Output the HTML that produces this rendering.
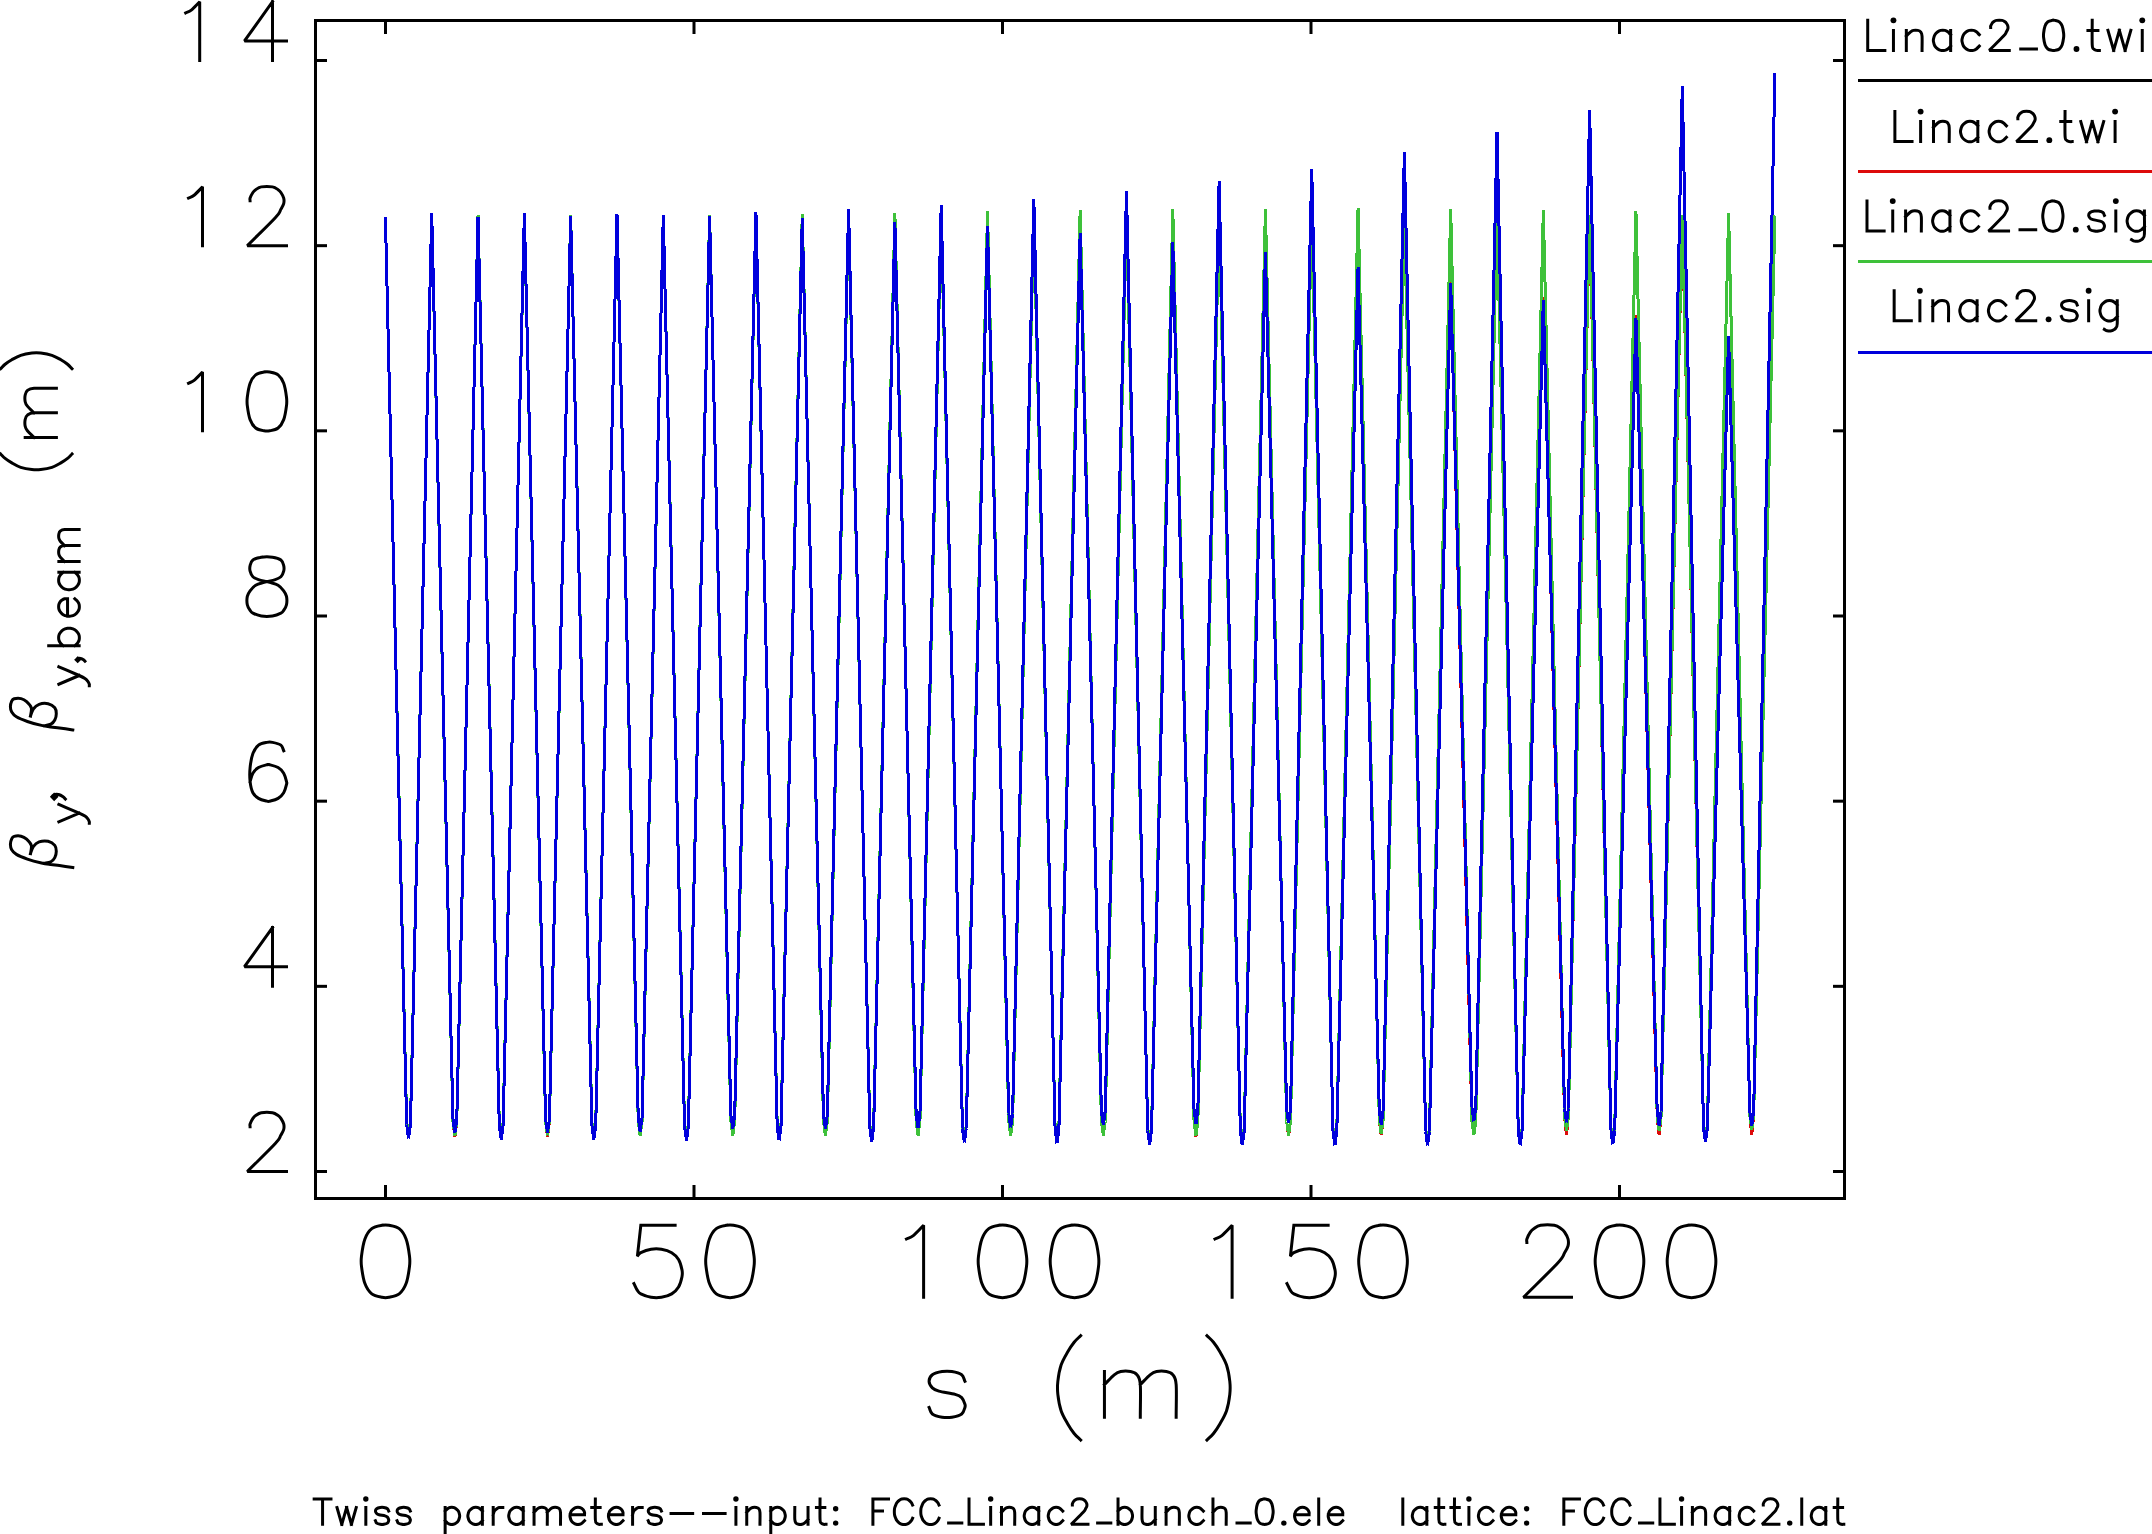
<!DOCTYPE html>
<html><head><meta charset="utf-8"><style>
html,body{margin:0;padding:0;background:#fff;overflow:hidden}
svg{display:block}
</style></head><body>
<svg width="2152" height="1534" viewBox="0 0 2152 1534">
<rect width="2152" height="1534" fill="#fff"/>
<rect x="315.5" y="20.5" width="1529.0" height="1178.0" fill="none" stroke="#000" stroke-width="3"/>
<g fill="#000"><rect x="384" y="22" width="3" height="12"/><rect x="384" y="1185" width="3" height="12"/><rect x="692.5" y="22" width="3" height="12"/><rect x="692.5" y="1185" width="3" height="12"/><rect x="1001" y="22" width="3" height="12"/><rect x="1001" y="1185" width="3" height="12"/><rect x="1309.5" y="22" width="3" height="12"/><rect x="1309.5" y="1185" width="3" height="12"/><rect x="1618" y="22" width="3" height="12"/><rect x="1618" y="1185" width="3" height="12"/><rect x="317" y="1170" width="10" height="3"/><rect x="1833" y="1170" width="10" height="3"/><rect x="317" y="984.83" width="10" height="3"/><rect x="1833" y="984.83" width="10" height="3"/><rect x="317" y="799.67" width="10" height="3"/><rect x="1833" y="799.67" width="10" height="3"/><rect x="317" y="614.5" width="10" height="3"/><rect x="1833" y="614.5" width="10" height="3"/><rect x="317" y="429.33" width="10" height="3"/><rect x="1833" y="429.33" width="10" height="3"/><rect x="317" y="244.17" width="10" height="3"/><rect x="1833" y="244.17" width="10" height="3"/><rect x="317" y="59" width="10" height="3"/><rect x="1833" y="59" width="10" height="3"/></g>
<path d="M385.4 217.4 406.66 1121.5 M406.66 1121.5 408.56 1135.5 M408.56 1135.5 410.46 1121.5 M410.46 1121.5 431.72 214.5 M431.72 214.5 452.98 1121.5 M452.98 1121.5 454.88 1135.5 M454.88 1135.5 456.78 1121.5 M456.78 1121.5 478.03 215.5 M478.03 215.5 499.29 1122.6 M499.29 1122.6 501.19 1136.6 M501.19 1136.6 503.09 1122.6 M503.09 1122.6 524.35 214.5 M524.35 214.5 545.61 1121.5 M545.61 1121.5 547.51 1135.5 M547.51 1135.5 549.41 1121.5 M549.41 1121.5 570.67 215.5 M570.67 215.5 591.93 1122.6 M591.93 1122.6 593.83 1136.6 M593.83 1136.6 595.73 1122.6 M595.73 1122.6 616.99 214.8 M616.99 214.8 638.24 1121.5 M638.24 1121.5 640.14 1135.5 M640.14 1135.5 642.04 1121.5 M642.04 1121.5 663.3 215 M663.3 215 684.56 1123.7 M684.56 1123.7 686.46 1137.7 M686.46 1137.7 688.36 1123.7 M688.36 1123.7 709.62 214.7 M709.62 214.7 730.88 1121.5 M730.88 1121.5 732.78 1135.5 M732.78 1135.5 734.68 1121.5 M734.68 1121.5 755.94 215 M755.94 215 777.19 1123.4 M777.19 1123.4 779.09 1137.4 M779.09 1137.4 780.99 1123.4 M780.99 1123.4 802.25 213.9 M802.25 213.9 823.51 1121.5 M823.51 1121.5 825.41 1135.5 M825.41 1135.5 827.31 1121.5 M827.31 1121.5 848.57 215 M848.57 215 869.83 1124.7 M869.83 1124.7 871.73 1138.7 M871.73 1138.7 873.63 1124.7 M873.63 1124.7 894.89 213.1 M894.89 213.1 916.15 1121.5 M916.15 1121.5 918.05 1135.5 M918.05 1135.5 919.95 1121.5 M919.95 1121.5 941.2 215 M941.2 215 962.46 1125.4 M962.46 1125.4 964.36 1139.4 M964.36 1139.4 966.26 1125.4 M966.26 1125.4 987.52 211 M987.52 211 1008.78 1121.5 M1008.78 1121.5 1010.68 1135.5 M1010.68 1135.5 1012.58 1121.5 M1012.58 1121.5 1033.84 215 M1033.84 215 1055.1 1126.3 M1055.1 1126.3 1057 1140.3 M1057 1140.3 1058.9 1126.3 M1058.9 1126.3 1080.15 210.2 M1080.15 210.2 1101.41 1121.5 M1101.41 1121.5 1103.31 1135.5 M1103.31 1135.5 1105.21 1121.5 M1105.21 1121.5 1126.47 215 M1126.47 215 1147.73 1127.5 M1147.73 1127.5 1149.63 1141.5 M1149.63 1141.5 1151.53 1127.5 M1151.53 1127.5 1172.79 209.4 M1172.79 209.4 1194.05 1121.5 M1194.05 1121.5 1195.95 1135.5 M1195.95 1135.5 1197.85 1121.5 M1197.85 1121.5 1219.11 215 M1219.11 215 1240.36 1128.3 M1240.36 1128.3 1242.26 1142.3 M1242.26 1142.3 1244.16 1128.3 M1244.16 1128.3 1265.42 209.4 M1265.42 209.4 1286.68 1121.5 M1286.68 1121.5 1288.58 1135.5 M1288.58 1135.5 1290.48 1121.5 M1290.48 1121.5 1311.74 215 M1311.74 215 1333 1128.4 M1333 1128.4 1334.9 1142.4 M1334.9 1142.4 1336.8 1128.4 M1336.8 1128.4 1358.06 208.4 M1358.06 208.4 1379.32 1119.9 M1379.32 1119.9 1381.22 1133.9 M1381.22 1133.9 1383.12 1119.9 M1383.12 1119.9 1404.37 215 M1404.37 215 1425.63 1128.4 M1425.63 1128.4 1427.53 1142.4 M1427.53 1142.4 1429.43 1128.4 M1429.43 1128.4 1450.69 209.2 M1450.69 209.2 1471.95 1121 M1471.95 1121 1473.85 1135 M1473.85 1135 1475.75 1121 M1475.75 1121 1497.01 215 M1497.01 215 1518.27 1128.4 M1518.27 1128.4 1520.17 1142.4 M1520.17 1142.4 1522.07 1128.4 M1522.07 1128.4 1543.32 210 M1543.32 210 1564.58 1116.8 M1564.58 1116.8 1566.48 1130.8 M1566.48 1130.8 1568.38 1116.8 M1568.38 1116.8 1589.64 215 M1589.64 215 1610.9 1127.4 M1610.9 1127.4 1612.8 1141.4 M1612.8 1141.4 1614.7 1127.4 M1614.7 1127.4 1635.96 211.3 M1635.96 211.3 1657.22 1117 M1657.22 1117 1659.12 1131 M1659.12 1131 1661.02 1117 M1661.02 1117 1682.28 215 M1682.28 215 1703.53 1125.3 M1703.53 1125.3 1705.43 1139.3 M1705.43 1139.3 1707.33 1125.3 M1707.33 1125.3 1728.59 213.4 M1728.59 213.4 1749.85 1115.7 M1749.85 1115.7 1751.75 1129.7 M1751.75 1129.7 1753.65 1115.7 M1753.65 1115.7 1774.91 215.5" fill="none" stroke="#000" stroke-width="3" stroke-linecap="butt" shape-rendering="crispEdges"/>
<path d="M385.4 217.4 406.66 1121.5 M406.66 1121.5 408.56 1135.5 M408.56 1135.5 410.46 1121.5 M410.46 1121.5 431.72 214.5 M431.72 214.5 452.98 1121.5 M452.98 1121.5 454.88 1136.7 M454.88 1136.7 456.78 1121.5 M456.78 1121.5 478.03 215.5 M478.03 215.5 499.29 1122.6 M499.29 1122.6 501.19 1136.6 M501.19 1136.6 503.09 1122.6 M503.09 1122.6 524.35 214.5 M524.35 214.5 545.61 1121.5 M545.61 1121.5 547.51 1136.7 M547.51 1136.7 549.41 1121.5 M549.41 1121.5 570.67 215.5 M570.67 215.5 591.93 1122.6 M591.93 1122.6 593.83 1136.6 M593.83 1136.6 595.73 1122.6 M595.73 1122.6 616.99 214.8 M616.99 214.8 638.24 1121.5 M638.24 1121.5 640.14 1135.5 M640.14 1135.5 642.04 1121.5 M642.04 1121.5 663.3 215 M663.3 215 684.56 1123.7 M684.56 1123.7 686.46 1137.7 M686.46 1137.7 688.36 1123.7 M688.36 1123.7 709.62 214.7 M709.62 214.7 730.88 1121.5 M730.88 1121.5 732.78 1135.5 M732.78 1135.5 734.68 1121.5 M734.68 1121.5 755.94 215 M755.94 215 777.19 1123.4 M777.19 1123.4 779.09 1137.4 M779.09 1137.4 780.99 1123.4 M780.99 1123.4 802.25 213.9 M802.25 213.9 823.51 1121.5 M823.51 1121.5 825.41 1135.5 M825.41 1135.5 827.31 1121.5 M827.31 1121.5 848.57 215 M848.57 215 869.83 1124.7 M869.83 1124.7 871.73 1138.7 M871.73 1138.7 873.63 1124.7 M873.63 1124.7 894.89 213.1 M894.89 213.1 916.15 1121.5 M916.15 1121.5 918.05 1135.5 M918.05 1135.5 919.95 1121.5 M919.95 1121.5 941.2 215 M941.2 215 962.46 1125.4 M962.46 1125.4 964.36 1139.4 M964.36 1139.4 966.26 1125.4 M966.26 1125.4 987.52 211 M987.52 211 1008.78 1121.5 M1008.78 1121.5 1010.68 1135.5 M1010.68 1135.5 1012.58 1121.5 M1012.58 1121.5 1033.84 215 M1033.84 215 1055.1 1126.3 M1055.1 1126.3 1057 1140.3 M1057 1140.3 1058.9 1126.3 M1058.9 1126.3 1080.15 210.2 M1080.15 210.2 1101.41 1121.5 M1101.41 1121.5 1103.31 1135.5 M1103.31 1135.5 1105.21 1121.5 M1105.21 1121.5 1126.47 215 M1126.47 215 1147.73 1127.5 M1147.73 1127.5 1149.63 1141.5 M1149.63 1141.5 1151.53 1127.5 M1151.53 1127.5 1172.79 209.4 M1172.79 209.4 1194.05 1121.5 M1194.05 1121.5 1195.95 1136.5 M1195.95 1136.5 1197.85 1121.5 M1197.85 1121.5 1219.11 215 M1219.11 215 1240.36 1128.3 M1240.36 1128.3 1242.26 1142.3 M1242.26 1142.3 1244.16 1128.3 M1244.16 1128.3 1265.42 209.4 M1265.42 209.4 1286.68 1121.5 M1286.68 1121.5 1288.58 1136.3 M1288.58 1136.3 1290.48 1121.5 M1290.48 1121.5 1311.74 215 M1311.74 215 1333 1128.4 M1333 1128.4 1334.9 1142.4 M1334.9 1142.4 1336.8 1128.4 M1336.8 1128.4 1358.06 208.4 M1358.06 208.4 1379.32 1119.9 M1379.32 1119.9 1381.22 1135.2 M1381.22 1135.2 1383.12 1119.9 M1383.12 1119.9 1404.37 215 M1404.37 215 1425.63 1128.4 M1425.63 1128.4 1427.53 1142.4 M1427.53 1142.4 1429.43 1128.4 M1429.43 1128.4 1450.69 280 M1450.69 280 1471.95 1121 M1471.95 1121 1473.85 1135.2 M1473.85 1135.2 1475.75 1121 M1475.75 1121 1497.01 215 M1497.01 215 1518.27 1128.4 M1518.27 1128.4 1520.17 1142.4 M1520.17 1142.4 1522.07 1128.4 M1522.07 1128.4 1543.32 297 M1543.32 297 1564.58 1116.8 M1564.58 1116.8 1566.48 1135.2 M1566.48 1135.2 1568.38 1116.8 M1568.38 1116.8 1589.64 216.5 M1589.64 216.5 1610.9 1127.4 M1610.9 1127.4 1612.8 1141.4 M1612.8 1141.4 1614.7 1127.4 M1614.7 1127.4 1635.96 315 M1635.96 315 1657.22 1117 M1657.22 1117 1659.12 1135.2 M1659.12 1135.2 1661.02 1117 M1661.02 1117 1682.28 216.5 M1682.28 216.5 1703.53 1125.3 M1703.53 1125.3 1705.43 1139.3 M1705.43 1139.3 1707.33 1125.3 M1707.33 1125.3 1728.59 213.4 M1728.59 213.4 1749.85 1115.7 M1749.85 1115.7 1751.75 1135.2 M1751.75 1135.2 1753.65 1115.7 M1753.65 1115.7 1774.91 215.5" fill="none" stroke="#dd0a0a" stroke-width="3" stroke-linecap="butt" shape-rendering="crispEdges"/>
<path d="M385.4 217.4 406.66 1121.5 M406.66 1121.5 408.56 1135.5 M408.56 1135.5 410.46 1121.5 M410.46 1121.5 431.72 214.5 M431.72 214.5 452.98 1121.5 M452.98 1121.5 454.88 1135.5 M454.88 1135.5 456.78 1121.5 M456.78 1121.5 478.03 215.5 M478.03 215.5 499.29 1122.6 M499.29 1122.6 501.19 1136.6 M501.19 1136.6 503.09 1122.6 M503.09 1122.6 524.35 214.5 M524.35 214.5 545.61 1121.5 M545.61 1121.5 547.51 1135.5 M547.51 1135.5 549.41 1121.5 M549.41 1121.5 570.67 215.5 M570.67 215.5 591.93 1122.6 M591.93 1122.6 593.83 1136.6 M593.83 1136.6 595.73 1122.6 M595.73 1122.6 616.99 214.8 M616.99 214.8 638.24 1121.5 M638.24 1121.5 640.14 1135.5 M640.14 1135.5 642.04 1121.5 M642.04 1121.5 663.3 215 M663.3 215 684.56 1123.7 M684.56 1123.7 686.46 1137.7 M686.46 1137.7 688.36 1123.7 M688.36 1123.7 709.62 214.7 M709.62 214.7 730.88 1121.5 M730.88 1121.5 732.78 1135.5 M732.78 1135.5 734.68 1121.5 M734.68 1121.5 755.94 215 M755.94 215 777.19 1123.4 M777.19 1123.4 779.09 1137.4 M779.09 1137.4 780.99 1123.4 M780.99 1123.4 802.25 213.9 M802.25 213.9 823.51 1121.5 M823.51 1121.5 825.41 1135.5 M825.41 1135.5 827.31 1121.5 M827.31 1121.5 848.57 215 M848.57 215 869.83 1124.7 M869.83 1124.7 871.73 1138.7 M871.73 1138.7 873.63 1124.7 M873.63 1124.7 894.89 213.1 M894.89 213.1 916.15 1121.5 M916.15 1121.5 918.05 1135.5 M918.05 1135.5 919.95 1121.5 M919.95 1121.5 941.2 215 M941.2 215 962.46 1125.4 M962.46 1125.4 964.36 1139.4 M964.36 1139.4 966.26 1125.4 M966.26 1125.4 987.52 211 M987.52 211 1008.78 1121.5 M1008.78 1121.5 1010.68 1135.5 M1010.68 1135.5 1012.58 1121.5 M1012.58 1121.5 1033.84 215 M1033.84 215 1055.1 1126.3 M1055.1 1126.3 1057 1140.3 M1057 1140.3 1058.9 1126.3 M1058.9 1126.3 1080.15 210.2 M1080.15 210.2 1101.41 1121.5 M1101.41 1121.5 1103.31 1135.5 M1103.31 1135.5 1105.21 1121.5 M1105.21 1121.5 1126.47 215 M1126.47 215 1147.73 1127.5 M1147.73 1127.5 1149.63 1141.5 M1149.63 1141.5 1151.53 1127.5 M1151.53 1127.5 1172.79 209.4 M1172.79 209.4 1194.05 1121.5 M1194.05 1121.5 1195.95 1135.5 M1195.95 1135.5 1197.85 1121.5 M1197.85 1121.5 1219.11 215 M1219.11 215 1240.36 1128.3 M1240.36 1128.3 1242.26 1142.3 M1242.26 1142.3 1244.16 1128.3 M1244.16 1128.3 1265.42 209.4 M1265.42 209.4 1286.68 1121.5 M1286.68 1121.5 1288.58 1135.5 M1288.58 1135.5 1290.48 1121.5 M1290.48 1121.5 1311.74 215 M1311.74 215 1333 1128.4 M1333 1128.4 1334.9 1142.4 M1334.9 1142.4 1336.8 1128.4 M1336.8 1128.4 1358.06 208.4 M1358.06 208.4 1379.32 1119.9 M1379.32 1119.9 1381.22 1133.9 M1381.22 1133.9 1383.12 1119.9 M1383.12 1119.9 1404.37 215 M1404.37 215 1425.63 1128.4 M1425.63 1128.4 1427.53 1142.4 M1427.53 1142.4 1429.43 1128.4 M1429.43 1128.4 1450.69 209.2 M1450.69 209.2 1471.95 1121 M1471.95 1121 1473.85 1135 M1473.85 1135 1475.75 1121 M1475.75 1121 1497.01 215 M1497.01 215 1518.27 1128.4 M1518.27 1128.4 1520.17 1142.4 M1520.17 1142.4 1522.07 1128.4 M1522.07 1128.4 1543.32 210 M1543.32 210 1564.58 1116.8 M1564.58 1116.8 1566.48 1130.8 M1566.48 1130.8 1568.38 1116.8 M1568.38 1116.8 1589.64 215 M1589.64 215 1610.9 1127.4 M1610.9 1127.4 1612.8 1141.4 M1612.8 1141.4 1614.7 1127.4 M1614.7 1127.4 1635.96 211.3 M1635.96 211.3 1657.22 1117 M1657.22 1117 1659.12 1131 M1659.12 1131 1661.02 1117 M1661.02 1117 1682.28 215 M1682.28 215 1703.53 1125.3 M1703.53 1125.3 1705.43 1139.3 M1705.43 1139.3 1707.33 1125.3 M1707.33 1125.3 1728.59 213.4 M1728.59 213.4 1749.85 1115.7 M1749.85 1115.7 1751.75 1129.7 M1751.75 1129.7 1753.65 1115.7 M1753.65 1115.7 1774.91 215.5" fill="none" stroke="#3ec13a" stroke-width="3" stroke-linecap="butt" shape-rendering="crispEdges"/>
<path d="M385.4 217.4 406.66 1124.5 M406.66 1124.5 408.56 1138.5 M408.56 1138.5 410.46 1124.5 M410.46 1124.5 431.72 213.3 M431.72 213.3 452.98 1119.1 M452.98 1119.1 454.88 1133.1 M454.88 1133.1 456.78 1119.1 M456.78 1119.1 478.03 216.6 M478.03 216.6 499.29 1125.6 M499.29 1125.6 501.19 1139.6 M501.19 1139.6 503.09 1125.6 M503.09 1125.6 524.35 213.3 M524.35 213.3 545.61 1119 M545.61 1119 547.51 1133 M547.51 1133 549.41 1119 M549.41 1119 570.67 216.1 M570.67 216.1 591.93 1125.6 M591.93 1125.6 593.83 1139.6 M593.83 1139.6 595.73 1125.6 M595.73 1125.6 616.99 214.2 M616.99 214.2 638.24 1117.5 M638.24 1117.5 640.14 1131.5 M640.14 1131.5 642.04 1117.5 M642.04 1117.5 663.3 215.5 M663.3 215.5 684.56 1126.7 M684.56 1126.7 686.46 1140.7 M686.46 1140.7 688.36 1126.7 M688.36 1126.7 709.62 216 M709.62 216 730.88 1115 M730.88 1115 732.78 1129 M732.78 1129 734.68 1115 M734.68 1115 755.94 212 M755.94 212 777.19 1126.4 M777.19 1126.4 779.09 1140.4 M779.09 1140.4 780.99 1126.4 M780.99 1126.4 802.25 218 M802.25 218 823.51 1115 M823.51 1115 825.41 1129 M825.41 1129 827.31 1115 M827.31 1115 848.57 209 M848.57 209 869.83 1127.7 M869.83 1127.7 871.73 1141.7 M871.73 1141.7 873.63 1127.7 M873.63 1127.7 894.89 222 M894.89 222 916.15 1114.2 M916.15 1114.2 918.05 1128.2 M918.05 1128.2 919.95 1114.2 M919.95 1114.2 941.2 205 M941.2 205 962.46 1128.4 M962.46 1128.4 964.36 1142.4 M964.36 1142.4 966.26 1128.4 M966.26 1128.4 987.52 226.1 M987.52 226.1 1008.78 1113.4 M1008.78 1113.4 1010.68 1127.4 M1010.68 1127.4 1012.58 1113.4 M1012.58 1113.4 1033.84 199 M1033.84 199 1055.1 1129.3 M1055.1 1129.3 1057 1143.3 M1057 1143.3 1058.9 1129.3 M1058.9 1129.3 1080.15 232.9 M1080.15 232.9 1101.41 1111 M1101.41 1111 1103.31 1125 M1103.31 1125 1105.21 1111 M1105.21 1111 1126.47 191 M1126.47 191 1147.73 1130.5 M1147.73 1130.5 1149.63 1144.5 M1149.63 1144.5 1151.53 1130.5 M1151.53 1130.5 1172.79 241.9 M1172.79 241.9 1194.05 1110.2 M1194.05 1110.2 1195.95 1124.2 M1195.95 1124.2 1197.85 1110.2 M1197.85 1110.2 1219.11 180.9 M1219.11 180.9 1240.36 1131.3 M1240.36 1131.3 1242.26 1145.3 M1242.26 1145.3 1244.16 1131.3 M1244.16 1131.3 1265.42 252.5 M1265.42 252.5 1286.68 1109.3 M1286.68 1109.3 1288.58 1123.3 M1288.58 1123.3 1290.48 1109.3 M1290.48 1109.3 1311.74 169.2 M1311.74 169.2 1333 1131.4 M1333 1131.4 1334.9 1145.4 M1334.9 1145.4 1336.8 1131.4 M1336.8 1131.4 1358.06 267 M1358.06 267 1379.32 1110.5 M1379.32 1110.5 1381.22 1124.5 M1381.22 1124.5 1383.12 1110.5 M1383.12 1110.5 1404.37 152.1 M1404.37 152.1 1425.63 1131.4 M1425.63 1131.4 1427.53 1145.4 M1427.53 1145.4 1429.43 1131.4 M1429.43 1131.4 1450.69 282.7 M1450.69 282.7 1471.95 1107.4 M1471.95 1107.4 1473.85 1121.4 M1473.85 1121.4 1475.75 1107.4 M1475.75 1107.4 1497.01 132.2 M1497.01 132.2 1518.27 1131.4 M1518.27 1131.4 1520.17 1145.4 M1520.17 1145.4 1522.07 1131.4 M1522.07 1131.4 1543.32 299.9 M1543.32 299.9 1564.58 1108.4 M1564.58 1108.4 1566.48 1122.4 M1566.48 1122.4 1568.38 1108.4 M1568.38 1108.4 1589.64 110.1 M1589.64 110.1 1610.9 1130.4 M1610.9 1130.4 1612.8 1144.4 M1612.8 1144.4 1614.7 1130.4 M1614.7 1130.4 1635.96 317.7 M1635.96 317.7 1657.22 1111.5 M1657.22 1111.5 1659.12 1125.5 M1659.12 1125.5 1661.02 1111.5 M1661.02 1111.5 1682.28 86.1 M1682.28 86.1 1703.53 1128.3 M1703.53 1128.3 1705.43 1142.3 M1705.43 1142.3 1707.33 1128.3 M1707.33 1128.3 1728.59 336.5 M1728.59 336.5 1749.85 1111.5 M1749.85 1111.5 1751.75 1125.5 M1751.75 1125.5 1753.65 1111.5 M1753.65 1111.5 1774.91 72.9" fill="none" stroke="#0000dc" stroke-width="3" stroke-linecap="butt" shape-rendering="crispEdges"/>
<path d="M250.1 1126.7 C250.1 1125.77 249.63 1125.3 250.1 1123.9 C250.57 1122.5 251.97 1119.7 252.9 1118.3 C253.83 1116.9 254.3 1116.43 255.7 1115.5 C257.1 1114.57 258.5 1113.17 261.3 1112.7 C264.1 1112.23 269.7 1112.23 272.5 1112.7 C275.3 1113.17 276.7 1114.57 278.1 1115.5 C279.5 1116.43 279.97 1116.9 280.9 1118.3 C281.83 1119.7 283.23 1122.03 283.7 1123.9 C284.17 1125.77 284.17 1127.63 283.7 1129.5 C283.23 1131.37 282.3 1132.77 280.9 1135.1 C279.5 1137.43 280.9 1137.43 275.3 1143.5 C269.7 1149.57 256.63 1162.17 247.3 1171.5 C260.37 1171.5 273.43 1171.5 286.5 1171.5 M272.5 927.53 C263.17 940.6 253.83 953.67 244.5 966.73 C258.5 966.73 272.5 966.73 286.5 966.73 M272.5 927.53 272.5 986.33 M283.7 750.77 C282.77 748.9 282.77 746.57 280.9 745.17 C279.03 743.77 274.83 742.83 272.5 742.37 C270.17 741.9 269.23 741.9 266.9 742.37 C264.57 742.83 260.83 743.3 258.5 745.17 C256.17 747.03 254.3 749.83 252.9 753.57 C251.5 757.3 250.57 762.9 250.1 767.57 C249.63 772.23 249.63 777.37 250.1 781.57 C250.57 785.77 251.5 789.97 252.9 792.77 C254.3 795.57 256.17 796.97 258.5 798.37 C260.83 799.77 265.03 800.7 266.9 801.17 C268.77 801.63 267.83 801.63 269.7 801.17 C271.57 800.7 275.77 799.77 278.1 798.37 C280.43 796.97 282.3 795.1 283.7 792.77 C285.1 790.43 286.03 786.23 286.5 784.37 C286.97 782.5 286.97 783.43 286.5 781.57 C286.03 779.7 285.1 775.5 283.7 773.17 C282.3 770.83 280.43 768.97 278.1 767.57 C275.77 766.17 271.57 765.23 269.7 764.77 C267.83 764.3 268.77 764.3 266.9 764.77 C265.03 765.23 260.83 766.17 258.5 767.57 C256.17 768.97 254.3 770.83 252.9 773.17 C251.5 775.5 251.03 778.77 250.1 781.57 M261.3 557.2 C258.03 557.67 254.77 558.6 252.9 560 C251.03 561.4 250.57 563.73 250.1 565.6 C249.63 567.47 249.63 569.33 250.1 571.2 C250.57 573.07 251.5 575.4 252.9 576.8 C254.3 578.2 255.7 578.67 258.5 579.6 C261.3 580.53 266.43 581.47 269.7 582.4 C272.97 583.33 275.77 583.8 278.1 585.2 C280.43 586.6 282.3 588.93 283.7 590.8 C285.1 592.67 286.03 594.07 286.5 596.4 C286.97 598.73 286.97 602.47 286.5 604.8 C286.03 607.13 284.63 609 283.7 610.4 C282.77 611.8 282.77 612.27 280.9 613.2 C279.03 614.13 275.77 615.53 272.5 616 C269.23 616.47 264.57 616.47 261.3 616 C258.03 615.53 254.77 614.13 252.9 613.2 C251.03 612.27 251.03 611.8 250.1 610.4 C249.17 609 247.77 607.13 247.3 604.8 C246.83 602.47 246.83 598.73 247.3 596.4 C247.77 594.07 248.7 592.67 250.1 590.8 C251.5 588.93 253.37 586.6 255.7 585.2 C258.03 583.8 260.83 583.33 264.1 582.4 C267.37 581.47 272.5 580.53 275.3 579.6 C278.1 578.67 279.5 578.2 280.9 576.8 C282.3 575.4 283.23 573.07 283.7 571.2 C284.17 569.33 284.17 567.47 283.7 565.6 C283.23 563.73 282.77 561.4 280.9 560 C279.03 558.6 275.77 557.67 272.5 557.2 C269.23 556.73 264.57 556.73 261.3 557.2 M188.5 383.23 C190.37 382.3 191.77 382.3 194.1 380.43 C196.43 378.57 199.7 374.83 202.5 372.03 C202.5 391.63 202.5 411.23 202.5 430.83 M264.1 372.03 C261.77 372.5 258.03 372.97 255.7 374.83 C253.37 376.7 251.5 379.5 250.1 383.23 C248.7 386.97 247.77 393.5 247.3 397.23 C246.83 400.97 246.83 401.9 247.3 405.63 C247.77 409.37 248.7 415.9 250.1 419.63 C251.5 423.37 253.37 426.17 255.7 428.03 C258.03 429.9 261.77 430.37 264.1 430.83 C266.43 431.3 267.37 431.3 269.7 430.83 C272.03 430.37 275.77 429.9 278.1 428.03 C280.43 426.17 282.3 423.37 283.7 419.63 C285.1 415.9 286.03 409.37 286.5 405.63 C286.97 401.9 286.97 400.97 286.5 397.23 C286.03 393.5 285.1 386.97 283.7 383.23 C282.3 379.5 280.43 376.7 278.1 374.83 C275.77 372.97 272.03 372.5 269.7 372.03 C267.37 371.57 266.43 371.57 264.1 372.03 M188.5 198.07 C190.37 197.13 191.77 197.13 194.1 195.27 C196.43 193.4 199.7 189.67 202.5 186.87 C202.5 206.47 202.5 226.07 202.5 245.67 M250.1 200.87 C250.1 199.93 249.63 199.47 250.1 198.07 C250.57 196.67 251.97 193.87 252.9 192.47 C253.83 191.07 254.3 190.6 255.7 189.67 C257.1 188.73 258.5 187.33 261.3 186.87 C264.1 186.4 269.7 186.4 272.5 186.87 C275.3 187.33 276.7 188.73 278.1 189.67 C279.5 190.6 279.97 191.07 280.9 192.47 C281.83 193.87 283.23 196.2 283.7 198.07 C284.17 199.93 284.17 201.8 283.7 203.67 C283.23 205.53 282.3 206.93 280.9 209.27 C279.5 211.6 280.9 211.6 275.3 217.67 C269.7 223.73 256.63 236.33 247.3 245.67 C260.37 245.67 273.43 245.67 286.5 245.67 M185.7 12.9 C187.57 11.97 188.97 11.97 191.3 10.1 C193.63 8.23 196.9 4.5 199.7 1.7 C199.7 21.3 199.7 40.9 199.7 60.5 M272.5 1.7 C263.17 14.77 253.83 27.83 244.5 40.9 C258.5 40.9 272.5 40.9 286.5 40.9 M272.5 1.7 272.5 60.5 M382.07 1225.27 C379.21 1225.84 374.64 1226.41 371.78 1228.7 C368.92 1230.99 366.63 1234.42 364.92 1238.99 C363.21 1243.56 362.06 1251.57 361.49 1256.14 C360.92 1260.71 360.92 1261.86 361.49 1266.43 C362.06 1271 363.21 1279.01 364.92 1283.58 C366.63 1288.15 368.92 1291.58 371.78 1293.87 C374.64 1296.16 379.21 1296.73 382.07 1297.3 C384.93 1297.87 386.07 1297.87 388.93 1297.3 C391.79 1296.73 396.36 1296.16 399.22 1293.87 C402.08 1291.58 404.37 1288.15 406.08 1283.58 C407.79 1279.01 408.94 1271 409.51 1266.43 C410.08 1261.86 410.08 1260.71 409.51 1256.14 C408.94 1251.57 407.79 1243.56 406.08 1238.99 C404.37 1234.42 402.08 1230.99 399.22 1228.7 C396.36 1226.41 391.79 1225.84 388.93 1225.27 C386.07 1224.7 384.93 1224.7 382.07 1225.27 M675.13 1225.27 C663.7 1225.27 652.27 1225.27 640.83 1225.27 C639.69 1235.56 638.55 1245.85 637.4 1256.14 C638.55 1255 638.55 1253.85 640.83 1252.71 C643.12 1251.57 647.69 1249.85 651.12 1249.28 C654.56 1248.71 657.99 1248.71 661.41 1249.28 C664.84 1249.85 668.85 1251 671.7 1252.71 C674.56 1254.42 676.85 1256.71 678.56 1259.57 C680.28 1262.43 681.42 1267 681.99 1269.86 C682.57 1272.72 682.57 1273.86 681.99 1276.72 C681.42 1279.58 680.28 1284.15 678.56 1287.01 C676.85 1289.87 674.56 1292.15 671.7 1293.87 C668.85 1295.58 664.84 1296.73 661.41 1297.3 C657.99 1297.87 654.56 1297.87 651.12 1297.3 C647.69 1296.73 643.12 1295.01 640.83 1293.87 C638.55 1292.73 638.55 1292.15 637.4 1290.44 C636.26 1288.73 635.12 1285.87 633.97 1283.58 M726.58 1225.27 C723.73 1225.84 719.15 1226.41 716.29 1228.7 C713.44 1230.99 711.15 1234.42 709.43 1238.99 C707.72 1243.56 706.58 1251.57 706 1256.14 C705.43 1260.71 705.43 1261.86 706 1266.43 C706.58 1271 707.72 1279.01 709.43 1283.58 C711.15 1288.15 713.44 1291.58 716.29 1293.87 C719.15 1296.16 723.73 1296.73 726.58 1297.3 C729.44 1297.87 730.59 1297.87 733.44 1297.3 C736.3 1296.73 740.88 1296.16 743.73 1293.87 C746.59 1291.58 748.88 1288.15 750.59 1283.58 C752.31 1279.01 753.45 1271 754.02 1266.43 C754.6 1261.86 754.6 1260.71 754.02 1256.14 C753.45 1251.57 752.31 1243.56 750.59 1238.99 C748.88 1234.42 746.59 1230.99 743.73 1228.7 C740.88 1226.41 736.3 1225.84 733.44 1225.27 C730.59 1224.7 729.44 1224.7 726.58 1225.27 M906.46 1238.99 C908.75 1237.85 910.46 1237.85 913.32 1235.56 C916.18 1233.27 920.18 1228.7 923.61 1225.27 C923.61 1249.28 923.61 1273.29 923.61 1297.3 M999.07 1225.27 C996.21 1225.84 991.64 1226.41 988.78 1228.7 C985.92 1230.99 983.64 1234.42 981.92 1238.99 C980.21 1243.56 979.06 1251.57 978.49 1256.14 C977.92 1260.71 977.92 1261.86 978.49 1266.43 C979.06 1271 980.21 1279.01 981.92 1283.58 C983.64 1288.15 985.92 1291.58 988.78 1293.87 C991.64 1296.16 996.21 1296.73 999.07 1297.3 C1001.93 1297.87 1003.07 1297.87 1005.93 1297.3 C1008.79 1296.73 1013.36 1296.16 1016.22 1293.87 C1019.08 1291.58 1021.37 1288.15 1023.08 1283.58 C1024.8 1279.01 1025.94 1271 1026.51 1266.43 C1027.08 1261.86 1027.08 1260.71 1026.51 1256.14 C1025.94 1251.57 1024.8 1243.56 1023.08 1238.99 C1021.37 1234.42 1019.08 1230.99 1016.22 1228.7 C1013.36 1226.41 1008.79 1225.84 1005.93 1225.27 C1003.07 1224.7 1001.93 1224.7 999.07 1225.27 M1071.1 1225.27 C1068.24 1225.84 1063.67 1226.41 1060.81 1228.7 C1057.95 1230.99 1055.66 1234.42 1053.95 1238.99 C1052.24 1243.56 1051.09 1251.57 1050.52 1256.14 C1049.95 1260.71 1049.95 1261.86 1050.52 1266.43 C1051.09 1271 1052.24 1279.01 1053.95 1283.58 C1055.66 1288.15 1057.95 1291.58 1060.81 1293.87 C1063.67 1296.16 1068.24 1296.73 1071.1 1297.3 C1073.96 1297.87 1075.1 1297.87 1077.96 1297.3 C1080.82 1296.73 1085.39 1296.16 1088.25 1293.87 C1091.11 1291.58 1093.4 1288.15 1095.11 1283.58 C1096.83 1279.01 1097.97 1271 1098.54 1266.43 C1099.11 1261.86 1099.11 1260.71 1098.54 1256.14 C1097.97 1251.57 1096.83 1243.56 1095.11 1238.99 C1093.4 1234.42 1091.11 1230.99 1088.25 1228.7 C1085.39 1226.41 1080.82 1225.84 1077.96 1225.27 C1075.1 1224.7 1073.96 1224.7 1071.1 1225.27 M1214.96 1238.99 C1217.25 1237.85 1218.96 1237.85 1221.82 1235.56 C1224.68 1233.27 1228.68 1228.7 1232.11 1225.27 C1232.11 1249.28 1232.11 1273.29 1232.11 1297.3 M1328.15 1225.27 C1316.72 1225.27 1305.28 1225.27 1293.85 1225.27 C1292.71 1235.56 1291.56 1245.85 1290.42 1256.14 C1291.56 1255 1291.56 1253.85 1293.85 1252.71 C1296.14 1251.57 1300.71 1249.85 1304.14 1249.28 C1307.57 1248.71 1311 1248.71 1314.43 1249.28 C1317.86 1249.85 1321.86 1251 1324.72 1252.71 C1327.58 1254.42 1329.87 1256.71 1331.58 1259.57 C1333.3 1262.43 1334.44 1267 1335.01 1269.86 C1335.58 1272.72 1335.58 1273.86 1335.01 1276.72 C1334.44 1279.58 1333.3 1284.15 1331.58 1287.01 C1329.87 1289.87 1327.58 1292.15 1324.72 1293.87 C1321.86 1295.58 1317.86 1296.73 1314.43 1297.3 C1311 1297.87 1307.57 1297.87 1304.14 1297.3 C1300.71 1296.73 1296.14 1295.01 1293.85 1293.87 C1291.56 1292.73 1291.56 1292.15 1290.42 1290.44 C1289.28 1288.73 1288.13 1285.87 1286.99 1283.58 M1379.6 1225.27 C1376.74 1225.84 1372.17 1226.41 1369.31 1228.7 C1366.45 1230.99 1364.16 1234.42 1362.45 1238.99 C1360.74 1243.56 1359.59 1251.57 1359.02 1256.14 C1358.45 1260.71 1358.45 1261.86 1359.02 1266.43 C1359.59 1271 1360.74 1279.01 1362.45 1283.58 C1364.16 1288.15 1366.45 1291.58 1369.31 1293.87 C1372.17 1296.16 1376.74 1296.73 1379.6 1297.3 C1382.46 1297.87 1383.6 1297.87 1386.46 1297.3 C1389.32 1296.73 1393.89 1296.16 1396.75 1293.87 C1399.61 1291.58 1401.9 1288.15 1403.61 1283.58 C1405.33 1279.01 1406.47 1271 1407.04 1266.43 C1407.61 1261.86 1407.61 1260.71 1407.04 1256.14 C1406.47 1251.57 1405.33 1243.56 1403.61 1238.99 C1401.9 1234.42 1399.61 1230.99 1396.75 1228.7 C1393.89 1226.41 1389.32 1225.84 1386.46 1225.27 C1383.6 1224.7 1382.46 1224.7 1379.6 1225.27 M1526.89 1242.42 C1526.89 1241.28 1526.32 1240.7 1526.89 1238.99 C1527.46 1237.28 1529.18 1233.84 1530.32 1232.13 C1531.46 1230.41 1532.04 1229.84 1533.75 1228.7 C1535.46 1227.56 1537.18 1225.84 1540.61 1225.27 C1544.04 1224.7 1550.9 1224.7 1554.33 1225.27 C1557.76 1225.84 1559.48 1227.56 1561.19 1228.7 C1562.9 1229.84 1563.48 1230.41 1564.62 1232.13 C1565.76 1233.84 1567.48 1236.7 1568.05 1238.99 C1568.62 1241.28 1568.62 1243.56 1568.05 1245.85 C1567.48 1248.14 1566.34 1249.85 1564.62 1252.71 C1562.91 1255.57 1564.62 1255.57 1557.76 1263 C1550.9 1270.43 1534.89 1285.87 1523.46 1297.3 C1539.47 1297.3 1555.47 1297.3 1571.48 1297.3 M1616.07 1225.27 C1613.21 1225.84 1608.64 1226.41 1605.78 1228.7 C1602.92 1230.99 1600.63 1234.42 1598.92 1238.99 C1597.21 1243.56 1596.06 1251.57 1595.49 1256.14 C1594.92 1260.71 1594.92 1261.86 1595.49 1266.43 C1596.06 1271 1597.21 1279.01 1598.92 1283.58 C1600.63 1288.15 1602.92 1291.58 1605.78 1293.87 C1608.64 1296.16 1613.21 1296.73 1616.07 1297.3 C1618.93 1297.87 1620.07 1297.87 1622.93 1297.3 C1625.79 1296.73 1630.36 1296.16 1633.22 1293.87 C1636.08 1291.58 1638.37 1288.15 1640.08 1283.58 C1641.8 1279.01 1642.94 1271 1643.51 1266.43 C1644.08 1261.86 1644.08 1260.71 1643.51 1256.14 C1642.94 1251.57 1641.8 1243.56 1640.08 1238.99 C1638.37 1234.42 1636.08 1230.99 1633.22 1228.7 C1630.36 1226.41 1625.79 1225.84 1622.93 1225.27 C1620.07 1224.7 1618.93 1224.7 1616.07 1225.27 M1688.1 1225.27 C1685.24 1225.84 1680.67 1226.41 1677.81 1228.7 C1674.95 1230.99 1672.66 1234.42 1670.95 1238.99 C1669.24 1243.56 1668.09 1251.57 1667.52 1256.14 C1666.95 1260.71 1666.95 1261.86 1667.52 1266.43 C1668.09 1271 1669.24 1279.01 1670.95 1283.58 C1672.66 1288.15 1674.95 1291.58 1677.81 1293.87 C1680.67 1296.16 1685.24 1296.73 1688.1 1297.3 C1690.96 1297.87 1692.1 1297.87 1694.96 1297.3 C1697.82 1296.73 1702.39 1296.16 1705.25 1293.87 C1708.11 1291.58 1710.4 1288.15 1712.11 1283.58 C1713.83 1279.01 1714.97 1271 1715.54 1266.43 C1716.11 1261.86 1716.11 1260.71 1715.54 1256.14 C1714.97 1251.57 1713.83 1243.56 1712.11 1238.99 C1710.4 1234.42 1708.11 1230.99 1705.25 1228.7 C1702.39 1226.41 1697.82 1225.84 1694.96 1225.27 C1692.1 1224.7 1690.96 1224.7 1688.1 1225.27" fill="none" stroke="#000" stroke-width="3" stroke-linecap="square" stroke-linejoin="miter" stroke-miterlimit="2"/>
<path d="M964.94 1381.34 C963.85 1379.17 963.85 1376.45 961.68 1374.82 C959.51 1373.19 955.16 1372.1 951.9 1371.56 C948.64 1371.02 945.38 1371.02 942.12 1371.56 C938.86 1372.1 934.51 1373.19 932.34 1374.82 C930.17 1376.45 929.08 1379.17 929.08 1381.34 C929.08 1383.51 930.71 1386.23 932.34 1387.86 C933.97 1389.49 935.06 1390.03 938.86 1391.12 C942.66 1392.21 951.36 1393.29 955.16 1394.38 C958.96 1395.47 960.05 1396.01 961.68 1397.64 C963.31 1399.27 964.4 1402.53 964.94 1404.16 C965.48 1405.79 965.48 1405.79 964.94 1407.42 C964.4 1409.05 963.85 1412.31 961.68 1413.94 C959.51 1415.57 955.16 1416.66 951.9 1417.2 C948.64 1417.74 945.38 1417.74 942.12 1417.2 C938.86 1416.66 934.51 1415.57 932.34 1413.94 C930.17 1412.31 930.17 1409.59 929.08 1407.42 M1080.66 1335.7 C1078.49 1337.87 1076.31 1339.5 1074.14 1342.22 C1071.97 1344.94 1069.79 1348.2 1067.62 1352 C1065.45 1355.8 1062.73 1360.15 1061.1 1365.04 C1059.47 1369.93 1058.38 1376.45 1057.84 1381.34 C1057.3 1386.23 1057.3 1389.49 1057.84 1394.38 C1058.38 1399.27 1059.47 1405.79 1061.1 1410.68 C1062.73 1415.57 1065.45 1419.92 1067.62 1423.72 C1069.79 1427.52 1071.97 1430.78 1074.14 1433.5 C1076.31 1436.22 1078.49 1437.85 1080.66 1440.02 M1104.44 1371.56 1104.44 1417.2 M1104.44 1384.6 C1107.7 1381.34 1111.5 1376.99 1114.22 1374.82 C1116.94 1372.65 1118.02 1372.1 1120.74 1371.56 C1123.46 1371.02 1127.8 1371.02 1130.52 1371.56 C1133.24 1372.1 1135.41 1372.65 1137.04 1374.82 C1138.67 1376.99 1139.76 1377.54 1140.3 1384.6 C1140.84 1391.66 1140.3 1406.33 1140.3 1417.2 M1140.3 1384.6 C1143.56 1381.34 1147.36 1376.99 1150.08 1374.82 C1152.8 1372.65 1153.88 1372.1 1156.6 1371.56 C1159.32 1371.02 1163.66 1371.02 1166.38 1371.56 C1169.1 1372.1 1171.27 1372.65 1172.9 1374.82 C1174.53 1376.99 1175.62 1377.54 1176.16 1384.6 C1176.7 1391.66 1176.16 1406.33 1176.16 1417.2 M1206.98 1335.7 C1209.15 1337.87 1211.33 1339.5 1213.5 1342.22 C1215.67 1344.94 1217.85 1348.2 1220.02 1352 C1222.19 1355.8 1224.91 1360.15 1226.54 1365.04 C1228.17 1369.93 1229.26 1376.45 1229.8 1381.34 C1230.34 1386.23 1230.34 1389.49 1229.8 1394.38 C1229.26 1399.27 1228.17 1405.79 1226.54 1410.68 C1224.91 1415.57 1222.19 1419.92 1220.02 1423.72 C1217.85 1427.52 1215.67 1430.78 1213.5 1433.5 C1211.33 1436.22 1209.15 1437.85 1206.98 1440.02" fill="none" stroke="#000" stroke-width="3" stroke-linecap="square" stroke-linejoin="miter" stroke-miterlimit="2"/>
<path d="M1867.71 20.37 1867.71 50.4 M1867.71 50.4 1884.87 50.4 M1893.45 30.38 1893.45 50.4 M1906.32 30.38 1906.32 50.4 M1906.32 36.1 C1907.75 34.67 1909.41 32.76 1910.61 31.81 C1911.8 30.86 1912.27 30.62 1913.46 30.38 C1914.66 30.14 1916.56 30.14 1917.76 30.38 C1918.95 30.62 1919.9 30.86 1920.62 31.81 C1921.33 32.76 1921.81 33 1922.05 36.1 C1922.28 39.2 1922.05 45.63 1922.05 50.4 M1950.65 30.38 1950.65 50.4 M1950.65 34.67 C1949.69 33.72 1948.74 32.52 1947.79 31.81 C1946.83 31.09 1946.12 30.62 1944.93 30.38 C1943.73 30.14 1941.83 30.14 1940.64 30.38 C1939.44 30.62 1938.73 31.09 1937.78 31.81 C1936.82 32.52 1935.63 33.48 1934.92 34.67 C1934.2 35.86 1933.72 37.77 1933.49 38.96 C1933.25 40.15 1933.25 40.63 1933.49 41.82 C1933.72 43.01 1934.2 44.92 1934.92 46.11 C1935.63 47.3 1936.82 48.25 1937.78 48.97 C1938.73 49.69 1939.44 50.16 1940.64 50.4 C1941.83 50.64 1943.73 50.64 1944.93 50.4 C1946.12 50.16 1946.83 49.69 1947.79 48.97 C1948.74 48.25 1949.69 47.06 1950.65 46.11 M1979.25 34.67 C1978.29 33.72 1977.34 32.52 1976.38 31.81 C1975.43 31.09 1974.72 30.62 1973.53 30.38 C1972.33 30.14 1970.43 30.14 1969.24 30.38 C1968.04 30.62 1967.33 31.09 1966.38 31.81 C1965.42 32.52 1964.23 33.48 1963.52 34.67 C1962.8 35.86 1962.32 37.77 1962.09 38.96 C1961.85 40.15 1961.85 40.63 1962.09 41.82 C1962.32 43.01 1962.8 44.92 1963.52 46.11 C1964.23 47.3 1965.42 48.25 1966.38 48.97 C1967.33 49.69 1968.04 50.16 1969.24 50.4 C1970.43 50.64 1972.33 50.64 1973.53 50.4 C1974.72 50.16 1975.43 49.69 1976.38 48.97 C1977.34 48.25 1978.29 47.06 1979.25 46.11 M1990.69 27.52 C1990.69 27.04 1990.45 26.8 1990.69 26.09 C1990.92 25.38 1991.64 23.95 1992.12 23.23 C1992.59 22.52 1992.83 22.28 1993.55 21.8 C1994.26 21.32 1994.98 20.61 1996.41 20.37 C1997.84 20.13 2000.7 20.13 2002.13 20.37 C2003.56 20.61 2004.27 21.32 2004.99 21.8 C2005.7 22.28 2005.94 22.52 2006.42 23.23 C2006.89 23.95 2007.61 25.14 2007.85 26.09 C2008.08 27.04 2008.08 28 2007.85 28.95 C2007.61 29.9 2007.13 30.62 2006.42 31.81 C2005.7 33 2006.41 33 2003.56 36.1 C2000.7 39.2 1994.02 45.63 1989.26 50.4 C1995.93 50.4 2002.6 50.4 2009.28 50.4 M2020.72 48.97 2036.45 48.97 M2052.18 20.37 C2050.98 20.61 2049.08 20.85 2047.88 21.8 C2046.69 22.75 2045.74 24.18 2045.03 26.09 C2044.31 28 2043.83 31.33 2043.6 33.24 C2043.36 35.15 2043.36 35.62 2043.6 37.53 C2043.83 39.44 2044.31 42.77 2045.03 44.68 C2045.74 46.59 2046.69 48.02 2047.88 48.97 C2049.08 49.92 2050.98 50.16 2052.18 50.4 C2053.37 50.64 2053.84 50.64 2055.03 50.4 C2056.23 50.16 2058.13 49.92 2059.33 48.97 C2060.52 48.02 2061.47 46.59 2062.18 44.68 C2062.9 42.77 2063.38 39.44 2063.62 37.53 C2063.85 35.62 2063.85 35.15 2063.62 33.24 C2063.38 31.33 2062.9 28 2062.18 26.09 C2061.47 24.18 2060.52 22.75 2059.33 21.8 C2058.13 20.85 2056.23 20.61 2055.03 20.37 C2053.84 20.13 2053.37 20.13 2052.18 20.37 M2092.22 20.37 C2092.22 28.47 2091.98 39.91 2092.22 44.68 C2092.45 49.45 2092.93 48.02 2093.64 48.97 C2094.36 49.92 2095.55 50.16 2096.51 50.4 C2097.46 50.64 2098.41 50.4 2099.37 50.4 M2087.93 30.38 2097.93 30.38 M2107.95 30.38 2113.67 50.4 M2119.39 30.38 2113.67 50.4 M2119.39 30.38 2125.11 50.4 M2130.83 30.38 2125.11 50.4 M2142.26 30.38 2142.26 50.4 M1894.88 111.57 1894.88 141.6 M1894.88 141.6 1912.04 141.6 M1920.62 121.58 1920.62 141.6 M1933.48 121.58 1933.48 141.6 M1933.48 127.3 C1934.91 125.87 1936.58 123.96 1937.77 123.01 C1938.97 122.06 1939.44 121.82 1940.63 121.58 C1941.83 121.34 1943.73 121.34 1944.92 121.58 C1946.12 121.82 1947.07 122.06 1947.78 123.01 C1948.5 123.96 1948.98 124.2 1949.21 127.3 C1949.45 130.4 1949.21 136.83 1949.21 141.6 M1977.82 121.58 1977.82 141.6 M1977.82 125.87 C1976.86 124.92 1975.91 123.72 1974.95 123.01 C1974 122.29 1973.29 121.82 1972.1 121.58 C1970.9 121.34 1969 121.34 1967.81 121.58 C1966.61 121.82 1965.9 122.29 1964.94 123.01 C1963.99 123.72 1962.8 124.68 1962.09 125.87 C1961.37 127.06 1960.89 128.97 1960.65 130.16 C1960.42 131.35 1960.42 131.83 1960.65 133.02 C1960.89 134.21 1961.37 136.12 1962.09 137.31 C1962.8 138.5 1963.99 139.45 1964.94 140.17 C1965.9 140.88 1966.61 141.36 1967.81 141.6 C1969 141.84 1970.9 141.84 1972.1 141.6 C1973.29 141.36 1974 140.88 1974.95 140.17 C1975.91 139.45 1976.86 138.26 1977.82 137.31 M2006.41 125.87 C2005.46 124.92 2004.51 123.72 2003.55 123.01 C2002.6 122.29 2001.89 121.82 2000.69 121.58 C1999.5 121.34 1997.6 121.34 1996.4 121.58 C1995.21 121.82 1994.5 122.29 1993.54 123.01 C1992.59 123.72 1991.4 124.68 1990.68 125.87 C1989.97 127.06 1989.49 128.97 1989.25 130.16 C1989.02 131.35 1989.02 131.83 1989.25 133.02 C1989.49 134.21 1989.97 136.12 1990.68 137.31 C1991.4 138.5 1992.59 139.45 1993.54 140.17 C1994.5 140.88 1995.21 141.36 1996.4 141.6 C1997.6 141.84 1999.5 141.84 2000.69 141.6 C2001.89 141.36 2002.6 140.88 2003.55 140.17 C2004.51 139.45 2005.46 138.26 2006.41 137.31 M2017.86 118.72 C2017.86 118.24 2017.62 118 2017.86 117.29 C2018.09 116.57 2018.81 115.14 2019.29 114.43 C2019.76 113.71 2020 113.48 2020.71 113 C2021.43 112.52 2022.14 111.81 2023.58 111.57 C2025.01 111.33 2027.87 111.33 2029.3 111.57 C2030.73 111.81 2031.44 112.52 2032.15 113 C2032.87 113.48 2033.11 113.71 2033.59 114.43 C2034.06 115.14 2034.78 116.34 2035.02 117.29 C2035.25 118.24 2035.25 119.2 2035.02 120.15 C2034.78 121.1 2034.3 121.82 2033.59 123.01 C2032.87 124.2 2033.59 124.2 2030.72 127.3 C2027.86 130.4 2021.19 136.83 2016.42 141.6 C2023.1 141.6 2029.77 141.6 2036.44 141.6 M2065.05 111.57 C2065.05 119.67 2064.81 131.11 2065.05 135.88 C2065.28 140.65 2065.76 139.22 2066.47 140.17 C2067.19 141.12 2068.38 141.36 2069.34 141.6 C2070.29 141.84 2071.24 141.6 2072.2 141.6 M2060.76 121.58 2070.76 121.58 M2080.78 121.58 2086.5 141.6 M2092.22 121.58 2086.5 141.6 M2092.22 121.58 2097.93 141.6 M2103.66 121.58 2097.93 141.6 M2115.09 121.58 2115.09 141.6 M1866.99 201.07 1866.99 231.1 M1866.99 231.1 1884.15 231.1 M1892.73 211.08 1892.73 231.1 M1905.6 211.08 1905.6 231.1 M1905.6 216.8 C1907.03 215.37 1908.7 213.46 1909.89 212.51 C1911.08 211.56 1911.56 211.32 1912.75 211.08 C1913.94 210.84 1915.85 210.84 1917.04 211.08 C1918.23 211.32 1919.18 211.56 1919.9 212.51 C1920.61 213.46 1921.09 213.7 1921.33 216.8 C1921.57 219.9 1921.33 226.33 1921.33 231.1 M1949.93 211.08 1949.93 231.1 M1949.93 215.37 C1948.98 214.42 1948.02 213.22 1947.07 212.51 C1946.12 211.79 1945.4 211.32 1944.21 211.08 C1943.02 210.84 1941.11 210.84 1939.92 211.08 C1938.73 211.32 1938.01 211.79 1937.06 212.51 C1936.11 213.22 1934.91 214.18 1934.2 215.37 C1933.49 216.56 1933.01 218.47 1932.77 219.66 C1932.53 220.85 1932.53 221.33 1932.77 222.52 C1933.01 223.71 1933.49 225.62 1934.2 226.81 C1934.91 228 1936.11 228.95 1937.06 229.67 C1938.01 230.38 1938.73 230.86 1939.92 231.1 C1941.11 231.34 1943.02 231.34 1944.21 231.1 C1945.4 230.86 1946.12 230.38 1947.07 229.67 C1948.02 228.95 1948.98 227.76 1949.93 226.81 M1978.53 215.37 C1977.58 214.42 1976.62 213.22 1975.67 212.51 C1974.72 211.79 1974 211.32 1972.81 211.08 C1971.62 210.84 1969.71 210.84 1968.52 211.08 C1967.33 211.32 1966.61 211.79 1965.66 212.51 C1964.71 213.22 1963.51 214.18 1962.8 215.37 C1962.09 216.56 1961.61 218.47 1961.37 219.66 C1961.13 220.85 1961.13 221.33 1961.37 222.52 C1961.61 223.71 1962.09 225.62 1962.8 226.81 C1963.51 228 1964.71 228.95 1965.66 229.67 C1966.61 230.38 1967.33 230.86 1968.52 231.1 C1969.71 231.34 1971.62 231.34 1972.81 231.1 C1974 230.86 1974.72 230.38 1975.67 229.67 C1976.62 228.95 1977.58 227.76 1978.53 226.81 M1989.97 208.22 C1989.97 207.74 1989.73 207.5 1989.97 206.79 C1990.21 206.07 1990.92 204.65 1991.4 203.93 C1991.88 203.22 1992.12 202.98 1992.83 202.5 C1993.54 202.02 1994.26 201.31 1995.69 201.07 C1997.12 200.83 1999.98 200.83 2001.41 201.07 C2002.84 201.31 2003.56 202.02 2004.27 202.5 C2004.98 202.98 2005.22 203.22 2005.7 203.93 C2006.18 204.65 2006.89 205.84 2007.13 206.79 C2007.37 207.74 2007.37 208.7 2007.13 209.65 C2006.89 210.6 2006.41 211.32 2005.7 212.51 C2004.99 213.7 2005.7 213.7 2002.84 216.8 C1999.98 219.9 1993.31 226.33 1988.54 231.1 C1995.21 231.1 2001.89 231.1 2008.56 231.1 M2020 229.67 2035.73 229.67 M2051.46 201.07 C2050.27 201.31 2048.36 201.55 2047.17 202.5 C2045.98 203.45 2045.02 204.88 2044.31 206.79 C2043.6 208.7 2043.12 212.03 2042.88 213.94 C2042.64 215.85 2042.64 216.32 2042.88 218.23 C2043.12 220.14 2043.6 223.47 2044.31 225.38 C2045.02 227.29 2045.98 228.72 2047.17 229.67 C2048.36 230.62 2050.27 230.86 2051.46 231.1 C2052.65 231.34 2053.13 231.34 2054.32 231.1 C2055.51 230.86 2057.42 230.62 2058.61 229.67 C2059.8 228.72 2060.75 227.29 2061.47 225.38 C2062.18 223.47 2062.66 220.14 2062.9 218.23 C2063.14 216.32 2063.14 215.85 2062.9 213.94 C2062.66 212.03 2062.18 208.7 2061.47 206.79 C2060.75 204.88 2059.8 203.45 2058.61 202.5 C2057.42 201.55 2055.51 201.31 2054.32 201.07 C2053.13 200.83 2052.65 200.83 2051.46 201.07 M2104.37 215.37 C2103.89 214.42 2103.89 213.22 2102.94 212.51 C2101.99 211.79 2100.08 211.32 2098.65 211.08 C2097.22 210.84 2095.79 210.84 2094.36 211.08 C2092.93 211.32 2091.02 211.79 2090.07 212.51 C2089.12 213.22 2088.64 214.42 2088.64 215.37 C2088.64 216.32 2089.35 217.51 2090.07 218.23 C2090.78 218.94 2091.26 219.18 2092.93 219.66 C2094.6 220.14 2098.41 220.61 2100.08 221.09 C2101.75 221.57 2102.22 221.8 2102.94 222.52 C2103.66 223.23 2104.13 224.66 2104.37 225.38 C2104.61 226.09 2104.61 226.09 2104.37 226.81 C2104.13 227.53 2103.89 228.95 2102.94 229.67 C2101.99 230.38 2100.08 230.86 2098.65 231.1 C2097.22 231.34 2095.79 231.34 2094.36 231.1 C2092.93 230.86 2091.02 230.38 2090.07 229.67 C2089.12 228.95 2089.12 227.76 2088.64 226.81 M2115.81 211.08 2115.81 231.1 M2144.41 211.08 C2144.41 218.71 2144.65 229.43 2144.41 233.96 C2144.17 238.49 2143.46 237.3 2142.98 238.25 C2142.5 239.2 2142.27 239.2 2141.55 239.68 C2140.84 240.16 2139.88 240.87 2138.69 241.11 C2137.5 241.35 2135.59 241.35 2134.4 241.11 C2133.21 240.87 2132.49 240.16 2131.54 239.68 M2144.41 215.37 C2143.46 214.42 2142.5 213.22 2141.55 212.51 C2140.6 211.79 2139.88 211.32 2138.69 211.08 C2137.5 210.84 2135.59 210.84 2134.4 211.08 C2133.21 211.32 2132.49 211.79 2131.54 212.51 C2130.59 213.22 2129.39 214.18 2128.68 215.37 C2127.96 216.56 2127.49 218.47 2127.25 219.66 C2127.01 220.85 2127.01 221.33 2127.25 222.52 C2127.49 223.71 2127.96 225.62 2128.68 226.81 C2129.39 228 2130.59 228.95 2131.54 229.67 C2132.49 230.38 2133.21 230.86 2134.4 231.1 C2135.59 231.34 2137.5 231.34 2138.69 231.1 C2139.88 230.86 2140.6 230.38 2141.55 229.67 C2142.5 228.95 2143.46 227.76 2144.41 226.81 M1894.16 290.77 1894.16 320.8 M1894.16 320.8 1911.32 320.8 M1919.9 300.78 1919.9 320.8 M1932.77 300.78 1932.77 320.8 M1932.77 306.5 C1934.2 305.07 1935.87 303.16 1937.06 302.21 C1938.25 301.26 1938.73 301.02 1939.92 300.78 C1941.11 300.54 1943.02 300.54 1944.21 300.78 C1945.4 301.02 1946.36 301.26 1947.07 302.21 C1947.78 303.16 1948.26 303.4 1948.5 306.5 C1948.74 309.6 1948.5 316.03 1948.5 320.8 M1977.1 300.78 1977.1 320.8 M1977.1 305.07 C1976.15 304.12 1975.19 302.93 1974.24 302.21 C1973.29 301.5 1972.57 301.02 1971.38 300.78 C1970.19 300.54 1968.28 300.54 1967.09 300.78 C1965.9 301.02 1965.18 301.5 1964.23 302.21 C1963.28 302.93 1962.09 303.88 1961.37 305.07 C1960.66 306.26 1960.18 308.17 1959.94 309.36 C1959.7 310.55 1959.7 311.03 1959.94 312.22 C1960.18 313.41 1960.66 315.32 1961.37 316.51 C1962.09 317.7 1963.28 318.65 1964.23 319.37 C1965.18 320.09 1965.9 320.56 1967.09 320.8 C1968.28 321.04 1970.19 321.04 1971.38 320.8 C1972.57 320.56 1973.29 320.09 1974.24 319.37 C1975.19 318.65 1976.15 317.46 1977.1 316.51 M2005.7 305.07 C2004.75 304.12 2003.79 302.93 2002.84 302.21 C2001.89 301.5 2001.17 301.02 1999.98 300.78 C1998.79 300.54 1996.88 300.54 1995.69 300.78 C1994.5 301.02 1993.78 301.5 1992.83 302.21 C1991.88 302.93 1990.68 303.88 1989.97 305.07 C1989.26 306.26 1988.78 308.17 1988.54 309.36 C1988.3 310.55 1988.3 311.03 1988.54 312.22 C1988.78 313.41 1989.26 315.32 1989.97 316.51 C1990.68 317.7 1991.88 318.65 1992.83 319.37 C1993.78 320.09 1994.5 320.56 1995.69 320.8 C1996.88 321.04 1998.79 321.04 1999.98 320.8 C2001.17 320.56 2001.89 320.09 2002.84 319.37 C2003.79 318.65 2004.75 317.46 2005.7 316.51 M2017.14 297.92 C2017.14 297.44 2016.9 297.21 2017.14 296.49 C2017.38 295.77 2018.09 294.35 2018.57 293.63 C2019.05 292.91 2019.29 292.68 2020 292.2 C2020.71 291.72 2021.43 291.01 2022.86 290.77 C2024.29 290.53 2027.15 290.53 2028.58 290.77 C2030.01 291.01 2030.73 291.72 2031.44 292.2 C2032.15 292.68 2032.39 292.91 2032.87 293.63 C2033.35 294.35 2034.06 295.54 2034.3 296.49 C2034.54 297.44 2034.54 298.4 2034.3 299.35 C2034.06 300.3 2033.59 301.02 2032.87 302.21 C2032.16 303.4 2032.87 303.4 2030.01 306.5 C2027.15 309.6 2020.48 316.03 2015.71 320.8 C2022.38 320.8 2029.06 320.8 2035.73 320.8 M2077.2 305.07 C2076.72 304.12 2076.72 302.93 2075.77 302.21 C2074.82 301.5 2072.91 301.02 2071.48 300.78 C2070.05 300.54 2068.62 300.54 2067.19 300.78 C2065.76 301.02 2063.85 301.5 2062.9 302.21 C2061.95 302.93 2061.47 304.12 2061.47 305.07 C2061.47 306.02 2062.18 307.22 2062.9 307.93 C2063.61 308.64 2064.09 308.88 2065.76 309.36 C2067.43 309.84 2071.24 310.31 2072.91 310.79 C2074.58 311.27 2075.05 311.51 2075.77 312.22 C2076.49 312.94 2076.96 314.37 2077.2 315.08 C2077.44 315.79 2077.44 315.79 2077.2 316.51 C2076.96 317.23 2076.72 318.65 2075.77 319.37 C2074.82 320.09 2072.91 320.56 2071.48 320.8 C2070.05 321.04 2068.62 321.04 2067.19 320.8 C2065.76 320.56 2063.85 320.09 2062.9 319.37 C2061.95 318.65 2061.95 317.46 2061.47 316.51 M2088.64 300.78 2088.64 320.8 M2117.24 300.78 C2117.24 308.41 2117.48 319.13 2117.24 323.66 C2117 328.19 2116.29 327 2115.81 327.95 C2115.33 328.9 2115.1 328.9 2114.38 329.38 C2113.66 329.86 2112.71 330.57 2111.52 330.81 C2110.33 331.05 2108.42 331.05 2107.23 330.81 C2106.04 330.57 2105.32 329.86 2104.37 329.38 M2117.24 305.07 C2116.29 304.12 2115.33 302.93 2114.38 302.21 C2113.43 301.5 2112.71 301.02 2111.52 300.78 C2110.33 300.54 2108.42 300.54 2107.23 300.78 C2106.04 301.02 2105.32 301.5 2104.37 302.21 C2103.42 302.93 2102.22 303.88 2101.51 305.07 C2100.79 306.26 2100.32 308.17 2100.08 309.36 C2099.84 310.55 2099.84 311.03 2100.08 312.22 C2100.32 313.41 2100.79 315.32 2101.51 316.51 C2102.22 317.7 2103.42 318.65 2104.37 319.37 C2105.32 320.09 2106.04 320.56 2107.23 320.8 C2108.42 321.04 2110.33 321.04 2111.52 320.8 C2112.71 320.56 2113.43 320.09 2114.38 319.37 C2115.33 318.65 2116.29 317.46 2117.24 316.51" fill="none" stroke="#000" stroke-width="3" stroke-linecap="square" stroke-linejoin="miter" stroke-miterlimit="2"/><g fill="#000"><circle cx="1893.45" cy="20.37" r="2.93"/><circle cx="2076.48" cy="48.97" r="2.93"/><circle cx="2142.27" cy="20.37" r="2.93"/><circle cx="1920.62" cy="111.57" r="2.93"/><circle cx="2049.32" cy="140.17" r="2.93"/><circle cx="2115.1" cy="111.57" r="2.93"/><circle cx="1892.73" cy="201.07" r="2.93"/><circle cx="2075.77" cy="229.67" r="2.93"/><circle cx="2115.81" cy="201.07" r="2.93"/><circle cx="1919.9" cy="290.77" r="2.93"/><circle cx="2048.6" cy="319.37" r="2.93"/><circle cx="2088.64" cy="290.77" r="2.93"/></g>
<rect x="1858" y="79" width="294" height="3" fill="#000"/>
<rect x="1858" y="170" width="294" height="3" fill="#dd0a0a"/>
<rect x="1858" y="260" width="294" height="3" fill="#3ec13a"/>
<rect x="1858" y="351" width="294" height="3" fill="#0000dc"/>
<path d="M322.57 1499.07 322.57 1524.3 M314.16 1499.07 330.98 1499.07 M336.99 1507.48 341.8 1524.3 M346.6 1507.48 341.8 1524.3 M346.6 1507.48 351.41 1524.3 M356.22 1507.48 351.41 1524.3 M365.83 1507.48 365.83 1524.3 M388.66 1511.08 C388.26 1510.28 388.26 1509.28 387.46 1508.68 C386.66 1508.08 385.06 1507.68 383.85 1507.48 C382.65 1507.28 381.45 1507.28 380.25 1507.48 C379.05 1507.68 377.45 1508.08 376.64 1508.68 C375.84 1509.28 375.44 1510.28 375.44 1511.08 C375.44 1511.88 376.04 1512.88 376.64 1513.49 C377.25 1514.09 377.65 1514.29 379.05 1514.69 C380.45 1515.09 383.65 1515.49 385.06 1515.89 C386.46 1516.29 386.86 1516.49 387.46 1517.09 C388.06 1517.69 388.46 1518.89 388.66 1519.49 C388.86 1520.09 388.86 1520.09 388.66 1520.7 C388.46 1521.3 388.26 1522.5 387.46 1523.1 C386.66 1523.7 385.06 1524.1 383.85 1524.3 C382.65 1524.5 381.45 1524.5 380.25 1524.3 C379.05 1524.1 377.45 1523.7 376.64 1523.1 C375.84 1522.5 375.84 1521.5 375.44 1520.7 M410.29 1511.08 C409.89 1510.28 409.89 1509.28 409.09 1508.68 C408.29 1508.08 406.68 1507.68 405.48 1507.48 C404.28 1507.28 403.08 1507.28 401.88 1507.48 C400.68 1507.68 399.07 1508.08 398.27 1508.68 C397.47 1509.28 397.07 1510.28 397.07 1511.08 C397.07 1511.88 397.67 1512.88 398.27 1513.49 C398.87 1514.09 399.27 1514.29 400.68 1514.69 C402.08 1515.09 405.28 1515.49 406.68 1515.89 C408.09 1516.29 408.49 1516.49 409.09 1517.09 C409.69 1517.69 410.09 1518.89 410.29 1519.49 C410.49 1520.09 410.49 1520.09 410.29 1520.7 C410.09 1521.3 409.89 1522.5 409.09 1523.1 C408.29 1523.7 406.68 1524.1 405.48 1524.3 C404.28 1524.5 403.08 1524.5 401.88 1524.3 C400.68 1524.1 399.07 1523.7 398.27 1523.1 C397.47 1522.5 397.47 1521.5 397.07 1520.7 M445.14 1507.48 445.14 1532.71 M445.14 1511.08 C445.94 1510.28 446.74 1509.28 447.54 1508.68 C448.34 1508.08 448.94 1507.68 449.94 1507.48 C450.94 1507.28 452.55 1507.28 453.55 1507.48 C454.55 1507.68 455.15 1508.08 455.95 1508.68 C456.75 1509.28 457.75 1510.08 458.35 1511.08 C458.95 1512.08 459.35 1513.69 459.56 1514.69 C459.76 1515.69 459.76 1516.09 459.56 1517.09 C459.35 1518.09 458.95 1519.69 458.35 1520.7 C457.75 1521.7 456.75 1522.5 455.95 1523.1 C455.15 1523.7 454.55 1524.1 453.55 1524.3 C452.55 1524.5 450.94 1524.5 449.94 1524.3 C448.94 1524.1 448.34 1523.7 447.54 1523.1 C446.74 1522.5 445.94 1521.5 445.14 1520.7 M482.39 1507.48 482.39 1524.3 M482.39 1511.08 C481.58 1510.28 480.78 1509.28 479.98 1508.68 C479.18 1508.08 478.58 1507.68 477.58 1507.48 C476.58 1507.28 474.98 1507.28 473.97 1507.48 C472.97 1507.68 472.37 1508.08 471.57 1508.68 C470.77 1509.28 469.77 1510.08 469.17 1511.08 C468.57 1512.08 468.17 1513.69 467.97 1514.69 C467.77 1515.69 467.77 1516.09 467.97 1517.09 C468.17 1518.09 468.57 1519.69 469.17 1520.7 C469.77 1521.7 470.77 1522.5 471.57 1523.1 C472.37 1523.7 472.97 1524.1 473.97 1524.3 C474.98 1524.5 476.58 1524.5 477.58 1524.3 C478.58 1524.1 479.18 1523.7 479.98 1523.1 C480.78 1522.5 481.58 1521.5 482.39 1520.7 M493.2 1507.48 493.2 1524.3 M493.2 1514.69 C493.6 1513.49 493.8 1512.08 494.4 1511.08 C495 1510.08 496 1509.28 496.8 1508.68 C497.61 1508.08 498.21 1507.68 499.21 1507.48 C500.21 1507.28 501.61 1507.48 502.81 1507.48 M523.24 1507.48 523.24 1524.3 M523.24 1511.08 C522.44 1510.28 521.64 1509.28 520.84 1508.68 C520.04 1508.08 519.43 1507.68 518.43 1507.48 C517.43 1507.28 515.83 1507.28 514.83 1507.48 C513.83 1507.68 513.23 1508.08 512.43 1508.68 C511.62 1509.28 510.62 1510.08 510.02 1511.08 C509.42 1512.08 509.02 1513.69 508.82 1514.69 C508.62 1515.69 508.62 1516.09 508.82 1517.09 C509.02 1518.09 509.42 1519.69 510.02 1520.7 C510.62 1521.7 511.62 1522.5 512.43 1523.1 C513.23 1523.7 513.83 1524.1 514.83 1524.3 C515.83 1524.5 517.43 1524.5 518.43 1524.3 C519.43 1524.1 520.04 1523.7 520.84 1523.1 C521.64 1522.5 522.44 1521.5 523.24 1520.7 M534.05 1507.48 534.05 1524.3 M534.05 1512.28 C535.26 1511.08 536.66 1509.48 537.66 1508.68 C538.66 1507.88 539.06 1507.68 540.06 1507.48 C541.06 1507.28 542.67 1507.28 543.67 1507.48 C544.67 1507.68 545.47 1507.88 546.07 1508.68 C546.67 1509.48 547.07 1509.68 547.27 1512.28 C547.47 1514.89 547.27 1520.29 547.27 1524.3 M547.27 1512.28 C548.47 1511.08 549.88 1509.48 550.88 1508.68 C551.88 1507.88 552.28 1507.68 553.28 1507.48 C554.28 1507.28 555.88 1507.28 556.88 1507.48 C557.89 1507.68 558.69 1507.88 559.29 1508.68 C559.89 1509.48 560.29 1509.68 560.49 1512.28 C560.69 1514.89 560.49 1520.29 560.49 1524.3 M570.1 1514.69 C574.91 1514.69 579.72 1514.69 584.52 1514.69 C584.52 1513.89 584.72 1513.09 584.52 1512.28 C584.32 1511.48 583.72 1510.48 583.32 1509.88 C582.92 1509.28 582.72 1509.08 582.12 1508.68 C581.52 1508.28 580.72 1507.68 579.72 1507.48 C578.71 1507.28 577.11 1507.28 576.11 1507.48 C575.11 1507.68 574.51 1508.08 573.71 1508.68 C572.91 1509.28 571.9 1510.08 571.3 1511.08 C570.7 1512.08 570.3 1513.69 570.1 1514.69 C569.9 1515.69 569.9 1516.09 570.1 1517.09 C570.3 1518.09 570.7 1519.69 571.3 1520.7 C571.9 1521.7 572.91 1522.5 573.71 1523.1 C574.51 1523.7 575.11 1524.1 576.11 1524.3 C577.11 1524.5 578.71 1524.5 579.72 1524.3 C580.72 1524.1 581.32 1523.7 582.12 1523.1 C582.92 1522.5 583.72 1521.5 584.52 1520.7 M595.34 1499.07 C595.34 1505.88 595.14 1515.49 595.34 1519.49 C595.54 1523.5 595.94 1522.3 596.54 1523.1 C597.14 1523.9 598.14 1524.1 598.94 1524.3 C599.74 1524.5 600.54 1524.3 601.34 1524.3 M591.73 1507.48 600.14 1507.48 M608.55 1514.69 C613.36 1514.69 618.17 1514.69 622.97 1514.69 C622.97 1513.89 623.17 1513.09 622.97 1512.28 C622.77 1511.48 622.17 1510.48 621.77 1509.88 C621.37 1509.28 621.17 1509.08 620.57 1508.68 C619.97 1508.28 619.17 1507.68 618.17 1507.48 C617.17 1507.28 615.56 1507.28 614.56 1507.48 C613.56 1507.68 612.96 1508.08 612.16 1508.68 C611.36 1509.28 610.36 1510.08 609.76 1511.08 C609.15 1512.08 608.75 1513.69 608.55 1514.69 C608.35 1515.69 608.35 1516.09 608.55 1517.09 C608.75 1518.09 609.15 1519.69 609.76 1520.7 C610.36 1521.7 611.36 1522.5 612.16 1523.1 C612.96 1523.7 613.56 1524.1 614.56 1524.3 C615.56 1524.5 617.17 1524.5 618.17 1524.3 C619.17 1524.1 619.77 1523.7 620.57 1523.1 C621.37 1522.5 622.17 1521.5 622.97 1520.7 M632.59 1507.48 632.59 1524.3 M632.59 1514.69 C632.99 1513.49 633.19 1512.08 633.79 1511.08 C634.39 1510.08 635.39 1509.28 636.19 1508.68 C636.99 1508.08 637.59 1507.68 638.59 1507.48 C639.59 1507.28 641 1507.48 642.2 1507.48 M661.42 1511.08 C661.02 1510.28 661.02 1509.28 660.22 1508.68 C659.42 1508.08 657.82 1507.68 656.62 1507.48 C655.42 1507.28 654.21 1507.28 653.01 1507.48 C651.81 1507.68 650.21 1508.08 649.41 1508.68 C648.61 1509.28 648.21 1510.28 648.21 1511.08 C648.21 1511.88 648.81 1512.88 649.41 1513.49 C650.01 1514.09 650.41 1514.29 651.81 1514.69 C653.21 1515.09 656.42 1515.49 657.82 1515.89 C659.22 1516.29 659.62 1516.49 660.22 1517.09 C660.82 1517.69 661.22 1518.89 661.42 1519.49 C661.62 1520.09 661.62 1520.09 661.42 1520.7 C661.22 1521.3 661.02 1522.5 660.22 1523.1 C659.42 1523.7 657.82 1524.1 656.62 1524.3 C655.42 1524.5 654.21 1524.5 653.01 1524.3 C651.81 1524.1 650.21 1523.7 649.41 1523.1 C648.61 1522.5 648.61 1521.5 648.21 1520.7 M671.04 1513.49 692.67 1513.49 M703.48 1513.49 725.11 1513.49 M735.92 1507.48 735.92 1524.3 M746.74 1507.48 746.74 1524.3 M746.74 1512.28 C747.94 1511.08 749.34 1509.48 750.34 1508.68 C751.34 1507.88 751.74 1507.68 752.75 1507.48 C753.75 1507.28 755.35 1507.28 756.35 1507.48 C757.35 1507.68 758.15 1507.88 758.75 1508.68 C759.35 1509.48 759.75 1509.68 759.96 1512.28 C760.16 1514.89 759.96 1520.29 759.96 1524.3 M770.77 1507.48 770.77 1532.71 M770.77 1511.08 C771.57 1510.28 772.37 1509.28 773.17 1508.68 C773.97 1508.08 774.57 1507.68 775.58 1507.48 C776.58 1507.28 778.18 1507.28 779.18 1507.48 C780.18 1507.68 780.78 1508.08 781.58 1508.68 C782.39 1509.28 783.39 1510.08 783.99 1511.08 C784.59 1512.08 784.99 1513.69 785.19 1514.69 C785.39 1515.69 785.39 1516.09 785.19 1517.09 C784.99 1518.09 784.59 1519.69 783.99 1520.7 C783.39 1521.7 782.39 1522.5 781.58 1523.1 C780.78 1523.7 780.18 1524.1 779.18 1524.3 C778.18 1524.5 776.58 1524.5 775.58 1524.3 C774.57 1524.1 773.97 1523.7 773.17 1523.1 C772.37 1522.5 771.57 1521.5 770.77 1520.7 M794.8 1507.48 C794.8 1511.48 794.6 1516.89 794.8 1519.49 C795 1522.1 795.4 1522.3 796 1523.1 C796.6 1523.9 797.41 1524.1 798.41 1524.3 C799.41 1524.5 801.01 1524.5 802.01 1524.3 C803.01 1524.1 803.41 1523.9 804.41 1523.1 C805.42 1522.3 806.82 1520.7 808.02 1519.49 M808.02 1507.48 808.02 1524.3 M820.04 1499.07 C820.04 1505.88 819.83 1515.49 820.04 1519.49 C820.24 1523.5 820.64 1522.3 821.24 1523.1 C821.84 1523.9 822.84 1524.1 823.64 1524.3 C824.44 1524.5 825.24 1524.3 826.04 1524.3 M816.43 1507.48 824.84 1507.48 M872.91 1499.07 872.91 1524.3 M872.91 1499.07 888.53 1499.07 M872.91 1511.08 882.52 1511.08 M912.56 1505.07 C912.16 1504.27 911.96 1503.47 911.36 1502.67 C910.76 1501.87 909.75 1500.87 908.95 1500.27 C908.15 1499.67 907.75 1499.27 906.55 1499.07 C905.35 1498.87 902.95 1498.87 901.74 1499.07 C900.54 1499.27 900.14 1499.67 899.34 1500.27 C898.54 1500.87 897.54 1501.87 896.94 1502.67 C896.34 1503.47 896.14 1504.07 895.74 1505.07 C895.34 1506.08 894.73 1507.08 894.53 1508.68 C894.33 1510.28 894.33 1513.09 894.53 1514.69 C894.73 1516.29 895.34 1517.29 895.74 1518.29 C896.14 1519.29 896.34 1519.89 896.94 1520.7 C897.54 1521.5 898.54 1522.5 899.34 1523.1 C900.14 1523.7 900.54 1524.1 901.74 1524.3 C902.95 1524.5 905.35 1524.5 906.55 1524.3 C907.75 1524.1 908.15 1523.7 908.95 1523.1 C909.75 1522.5 910.76 1521.5 911.36 1520.7 C911.96 1519.89 912.16 1519.09 912.56 1518.29 M938.99 1505.07 C938.59 1504.27 938.39 1503.47 937.79 1502.67 C937.19 1501.87 936.19 1500.87 935.39 1500.27 C934.59 1499.67 934.19 1499.27 932.99 1499.07 C931.78 1498.87 929.38 1498.87 928.18 1499.07 C926.98 1499.27 926.58 1499.67 925.78 1500.27 C924.97 1500.87 923.97 1501.87 923.37 1502.67 C922.77 1503.47 922.57 1504.07 922.17 1505.07 C921.77 1506.08 921.17 1507.08 920.97 1508.68 C920.77 1510.28 920.77 1513.09 920.97 1514.69 C921.17 1516.29 921.77 1517.29 922.17 1518.29 C922.57 1519.29 922.77 1519.89 923.37 1520.7 C923.97 1521.5 924.97 1522.5 925.78 1523.1 C926.58 1523.7 926.98 1524.1 928.18 1524.3 C929.38 1524.5 931.78 1524.5 932.99 1524.3 C934.19 1524.1 934.59 1523.7 935.39 1523.1 C936.19 1522.5 937.19 1521.5 937.79 1520.7 C938.39 1519.89 938.59 1519.09 938.99 1518.29 M948.61 1523.1 961.82 1523.1 M969.03 1499.07 969.03 1524.3 M969.03 1524.3 983.45 1524.3 M990.66 1507.48 990.66 1524.3 M1001.48 1507.48 1001.48 1524.3 M1001.48 1512.28 C1002.68 1511.08 1004.08 1509.48 1005.08 1508.68 C1006.08 1507.88 1006.48 1507.68 1007.48 1507.48 C1008.49 1507.28 1010.09 1507.28 1011.09 1507.48 C1012.09 1507.68 1012.89 1507.88 1013.49 1508.68 C1014.09 1509.48 1014.49 1509.68 1014.69 1512.28 C1014.89 1514.89 1014.69 1520.29 1014.69 1524.3 M1038.73 1507.48 1038.73 1524.3 M1038.73 1511.08 C1037.93 1510.28 1037.12 1509.28 1036.32 1508.68 C1035.52 1508.08 1034.92 1507.68 1033.92 1507.48 C1032.92 1507.28 1031.32 1507.28 1030.32 1507.48 C1029.31 1507.68 1028.71 1508.08 1027.91 1508.68 C1027.11 1509.28 1026.11 1510.08 1025.51 1511.08 C1024.91 1512.08 1024.51 1513.69 1024.31 1514.69 C1024.11 1515.69 1024.11 1516.09 1024.31 1517.09 C1024.51 1518.09 1024.91 1519.69 1025.51 1520.7 C1026.11 1521.7 1027.11 1522.5 1027.91 1523.1 C1028.71 1523.7 1029.31 1524.1 1030.32 1524.3 C1031.32 1524.5 1032.92 1524.5 1033.92 1524.3 C1034.92 1524.1 1035.52 1523.7 1036.32 1523.1 C1037.12 1522.5 1037.93 1521.5 1038.73 1520.7 M1062.76 1511.08 C1061.96 1510.28 1061.16 1509.28 1060.36 1508.68 C1059.55 1508.08 1058.95 1507.68 1057.95 1507.48 C1056.95 1507.28 1055.35 1507.28 1054.35 1507.48 C1053.35 1507.68 1052.75 1508.08 1051.94 1508.68 C1051.14 1509.28 1050.14 1510.08 1049.54 1511.08 C1048.94 1512.08 1048.54 1513.69 1048.34 1514.69 C1048.14 1515.69 1048.14 1516.09 1048.34 1517.09 C1048.54 1518.09 1048.94 1519.69 1049.54 1520.7 C1050.14 1521.7 1051.14 1522.5 1051.94 1523.1 C1052.75 1523.7 1053.35 1524.1 1054.35 1524.3 C1055.35 1524.5 1056.95 1524.5 1057.95 1524.3 C1058.95 1524.1 1059.55 1523.7 1060.36 1523.1 C1061.16 1522.5 1061.96 1521.5 1062.76 1520.7 M1072.37 1505.07 C1072.37 1504.67 1072.17 1504.47 1072.37 1503.87 C1072.57 1503.27 1073.17 1502.07 1073.57 1501.47 C1073.97 1500.87 1074.17 1500.67 1074.77 1500.27 C1075.38 1499.87 1075.98 1499.27 1077.18 1499.07 C1078.38 1498.87 1080.78 1498.87 1081.98 1499.07 C1083.19 1499.27 1083.79 1499.87 1084.39 1500.27 C1084.99 1500.67 1085.19 1500.87 1085.59 1501.47 C1085.99 1502.07 1086.59 1503.07 1086.79 1503.87 C1086.99 1504.67 1086.99 1505.47 1086.79 1506.28 C1086.59 1507.08 1086.19 1507.68 1085.59 1508.68 C1084.99 1509.68 1085.59 1509.68 1083.19 1512.28 C1080.78 1514.89 1075.17 1520.29 1071.17 1524.3 C1076.78 1524.3 1082.38 1524.3 1087.99 1524.3 M1097.6 1523.1 1110.82 1523.1 M1118.03 1499.07 1118.03 1524.3 M1118.03 1511.08 C1118.83 1510.28 1119.63 1509.28 1120.44 1508.68 C1121.24 1508.08 1121.84 1507.68 1122.84 1507.48 C1123.84 1507.28 1125.44 1507.28 1126.44 1507.48 C1127.44 1507.68 1128.05 1508.08 1128.85 1508.68 C1129.65 1509.28 1130.65 1510.08 1131.25 1511.08 C1131.85 1512.08 1132.25 1513.69 1132.45 1514.69 C1132.65 1515.69 1132.65 1516.09 1132.45 1517.09 C1132.25 1518.09 1131.85 1519.69 1131.25 1520.7 C1130.65 1521.7 1129.65 1522.5 1128.85 1523.1 C1128.05 1523.7 1127.44 1524.1 1126.44 1524.3 C1125.44 1524.5 1123.84 1524.5 1122.84 1524.3 C1121.84 1524.1 1121.24 1523.7 1120.44 1523.1 C1119.63 1522.5 1118.83 1521.5 1118.03 1520.7 M1142.06 1507.48 C1142.06 1511.48 1141.86 1516.89 1142.06 1519.49 C1142.26 1522.1 1142.66 1522.3 1143.27 1523.1 C1143.87 1523.9 1144.67 1524.1 1145.67 1524.3 C1146.67 1524.5 1148.27 1524.5 1149.27 1524.3 C1150.27 1524.1 1150.68 1523.9 1151.68 1523.1 C1152.68 1522.3 1154.08 1520.7 1155.28 1519.49 M1155.28 1507.48 1155.28 1524.3 M1166.1 1507.48 1166.1 1524.3 M1166.1 1512.28 C1167.3 1511.08 1168.7 1509.48 1169.7 1508.68 C1170.7 1507.88 1171.1 1507.68 1172.1 1507.48 C1173.11 1507.28 1174.71 1507.28 1175.71 1507.48 C1176.71 1507.68 1177.51 1507.88 1178.11 1508.68 C1178.71 1509.48 1179.11 1509.68 1179.31 1512.28 C1179.51 1514.89 1179.31 1520.29 1179.31 1524.3 M1203.35 1511.08 C1202.54 1510.28 1201.74 1509.28 1200.94 1508.68 C1200.14 1508.08 1199.54 1507.68 1198.54 1507.48 C1197.54 1507.28 1195.94 1507.28 1194.93 1507.48 C1193.93 1507.68 1193.33 1508.08 1192.53 1508.68 C1191.73 1509.28 1190.73 1510.08 1190.13 1511.08 C1189.53 1512.08 1189.13 1513.69 1188.93 1514.69 C1188.73 1515.69 1188.73 1516.09 1188.93 1517.09 C1189.13 1518.09 1189.53 1519.69 1190.13 1520.7 C1190.73 1521.7 1191.73 1522.5 1192.53 1523.1 C1193.33 1523.7 1193.93 1524.1 1194.93 1524.3 C1195.94 1524.5 1197.54 1524.5 1198.54 1524.3 C1199.54 1524.1 1200.14 1523.7 1200.94 1523.1 C1201.74 1522.5 1202.54 1521.5 1203.35 1520.7 M1212.96 1499.07 1212.96 1524.3 M1212.96 1512.28 C1214.16 1511.08 1215.56 1509.48 1216.56 1508.68 C1217.56 1507.88 1217.97 1507.68 1218.97 1507.48 C1219.97 1507.28 1221.57 1507.28 1222.57 1507.48 C1223.57 1507.68 1224.37 1507.88 1224.97 1508.68 C1225.58 1509.48 1225.98 1509.68 1226.18 1512.28 C1226.38 1514.89 1226.18 1520.29 1226.18 1524.3 M1236.99 1523.1 1250.21 1523.1 M1263.43 1499.07 C1262.42 1499.27 1260.82 1499.47 1259.82 1500.27 C1258.82 1501.07 1258.02 1502.27 1257.42 1503.87 C1256.82 1505.47 1256.42 1508.28 1256.22 1509.88 C1256.02 1511.48 1256.02 1511.88 1256.22 1513.49 C1256.42 1515.09 1256.82 1517.89 1257.42 1519.49 C1258.02 1521.1 1258.82 1522.3 1259.82 1523.1 C1260.82 1523.9 1262.42 1524.1 1263.43 1524.3 C1264.43 1524.5 1264.83 1524.5 1265.83 1524.3 C1266.83 1524.1 1268.43 1523.9 1269.43 1523.1 C1270.43 1522.3 1271.24 1521.1 1271.84 1519.49 C1272.44 1517.89 1272.84 1515.09 1273.04 1513.49 C1273.24 1511.88 1273.24 1511.48 1273.04 1509.88 C1272.84 1508.28 1272.44 1505.47 1271.84 1503.87 C1271.24 1502.27 1270.43 1501.07 1269.43 1500.27 C1268.43 1499.47 1266.83 1499.27 1265.83 1499.07 C1264.83 1498.87 1264.43 1498.87 1263.43 1499.07 M1294.67 1514.69 C1299.47 1514.69 1304.28 1514.69 1309.09 1514.69 C1309.09 1513.89 1309.29 1513.09 1309.09 1512.28 C1308.89 1511.48 1308.29 1510.48 1307.88 1509.88 C1307.48 1509.28 1307.28 1509.08 1306.68 1508.68 C1306.08 1508.28 1305.28 1507.68 1304.28 1507.48 C1303.28 1507.28 1301.68 1507.28 1300.68 1507.48 C1299.67 1507.68 1299.07 1508.08 1298.27 1508.68 C1297.47 1509.28 1296.47 1510.08 1295.87 1511.08 C1295.27 1512.08 1294.87 1513.69 1294.67 1514.69 C1294.47 1515.69 1294.47 1516.09 1294.67 1517.09 C1294.87 1518.09 1295.27 1519.69 1295.87 1520.7 C1296.47 1521.7 1297.47 1522.5 1298.27 1523.1 C1299.07 1523.7 1299.67 1524.1 1300.68 1524.3 C1301.68 1524.5 1303.28 1524.5 1304.28 1524.3 C1305.28 1524.1 1305.88 1523.7 1306.68 1523.1 C1307.48 1522.5 1308.29 1521.5 1309.09 1520.7 M1318.7 1499.07 1318.7 1524.3 M1328.31 1514.69 C1333.12 1514.69 1337.92 1514.69 1342.73 1514.69 C1342.73 1513.89 1342.93 1513.09 1342.73 1512.28 C1342.53 1511.48 1341.93 1510.48 1341.53 1509.88 C1341.13 1509.28 1340.93 1509.08 1340.33 1508.68 C1339.73 1508.28 1338.93 1507.68 1337.92 1507.48 C1336.92 1507.28 1335.32 1507.28 1334.32 1507.48 C1333.32 1507.68 1332.72 1508.08 1331.92 1508.68 C1331.12 1509.28 1330.11 1510.08 1329.51 1511.08 C1328.91 1512.08 1328.51 1513.69 1328.31 1514.69 C1328.11 1515.69 1328.11 1516.09 1328.31 1517.09 C1328.51 1518.09 1328.91 1519.69 1329.51 1520.7 C1330.11 1521.7 1331.12 1522.5 1331.92 1523.1 C1332.72 1523.7 1333.32 1524.1 1334.32 1524.3 C1335.32 1524.5 1336.92 1524.5 1337.92 1524.3 C1338.93 1524.1 1339.53 1523.7 1340.33 1523.1 C1341.13 1522.5 1341.93 1521.5 1342.73 1520.7 M1402.81 1499.07 1402.81 1524.3 M1426.84 1507.48 1426.84 1524.3 M1426.84 1511.08 C1426.04 1510.28 1425.24 1509.28 1424.44 1508.68 C1423.64 1508.08 1423.04 1507.68 1422.04 1507.48 C1421.04 1507.28 1419.43 1507.28 1418.43 1507.48 C1417.43 1507.68 1416.83 1508.08 1416.03 1508.68 C1415.23 1509.28 1414.23 1510.08 1413.63 1511.08 C1413.02 1512.08 1412.62 1513.69 1412.42 1514.69 C1412.22 1515.69 1412.22 1516.09 1412.42 1517.09 C1412.62 1518.09 1413.02 1519.69 1413.63 1520.7 C1414.23 1521.7 1415.23 1522.5 1416.03 1523.1 C1416.83 1523.7 1417.43 1524.1 1418.43 1524.3 C1419.43 1524.5 1421.04 1524.5 1422.04 1524.3 C1423.04 1524.1 1423.64 1523.7 1424.44 1523.1 C1425.24 1522.5 1426.04 1521.5 1426.84 1520.7 M1438.86 1499.07 C1438.86 1505.88 1438.66 1515.49 1438.86 1519.49 C1439.06 1523.5 1439.46 1522.3 1440.06 1523.1 C1440.66 1523.9 1441.66 1524.1 1442.46 1524.3 C1443.27 1524.5 1444.07 1524.3 1444.87 1524.3 M1435.25 1507.48 1443.67 1507.48 M1454.48 1499.07 C1454.48 1505.88 1454.28 1515.49 1454.48 1519.49 C1454.68 1523.5 1455.08 1522.3 1455.68 1523.1 C1456.28 1523.9 1457.28 1524.1 1458.08 1524.3 C1458.89 1524.5 1459.69 1524.3 1460.49 1524.3 M1450.88 1507.48 1459.29 1507.48 M1468.9 1507.48 1468.9 1524.3 M1492.93 1511.08 C1492.13 1510.28 1491.33 1509.28 1490.53 1508.68 C1489.73 1508.08 1489.13 1507.68 1488.12 1507.48 C1487.12 1507.28 1485.52 1507.28 1484.52 1507.48 C1483.52 1507.68 1482.92 1508.08 1482.12 1508.68 C1481.32 1509.28 1480.31 1510.08 1479.71 1511.08 C1479.11 1512.08 1478.71 1513.69 1478.51 1514.69 C1478.31 1515.69 1478.31 1516.09 1478.51 1517.09 C1478.71 1518.09 1479.11 1519.69 1479.71 1520.7 C1480.31 1521.7 1481.32 1522.5 1482.12 1523.1 C1482.92 1523.7 1483.52 1524.1 1484.52 1524.3 C1485.52 1524.5 1487.12 1524.5 1488.12 1524.3 C1489.13 1524.1 1489.73 1523.7 1490.53 1523.1 C1491.33 1522.5 1492.13 1521.5 1492.93 1520.7 M1501.34 1514.69 C1506.15 1514.69 1510.96 1514.69 1515.76 1514.69 C1515.76 1513.89 1515.96 1513.09 1515.76 1512.28 C1515.56 1511.48 1514.96 1510.48 1514.56 1509.88 C1514.16 1509.28 1513.96 1509.08 1513.36 1508.68 C1512.76 1508.28 1511.96 1507.68 1510.96 1507.48 C1509.95 1507.28 1508.35 1507.28 1507.35 1507.48 C1506.35 1507.68 1505.75 1508.08 1504.95 1508.68 C1504.15 1509.28 1503.14 1510.08 1502.54 1511.08 C1501.94 1512.08 1501.54 1513.69 1501.34 1514.69 C1501.14 1515.69 1501.14 1516.09 1501.34 1517.09 C1501.54 1518.09 1501.94 1519.69 1502.54 1520.7 C1503.14 1521.7 1504.15 1522.5 1504.95 1523.1 C1505.75 1523.7 1506.35 1524.1 1507.35 1524.3 C1508.35 1524.5 1509.95 1524.5 1510.96 1524.3 C1511.96 1524.1 1512.56 1523.7 1513.36 1523.1 C1514.16 1522.5 1514.96 1521.5 1515.76 1520.7 M1563.83 1499.07 1563.83 1524.3 M1563.83 1499.07 1579.45 1499.07 M1563.83 1511.08 1573.44 1511.08 M1603.48 1505.07 C1603.08 1504.27 1602.88 1503.47 1602.28 1502.67 C1601.68 1501.87 1600.67 1500.87 1599.87 1500.27 C1599.07 1499.67 1598.67 1499.27 1597.47 1499.07 C1596.27 1498.87 1593.87 1498.87 1592.66 1499.07 C1591.46 1499.27 1591.06 1499.67 1590.26 1500.27 C1589.46 1500.87 1588.46 1501.87 1587.86 1502.67 C1587.26 1503.47 1587.06 1504.07 1586.66 1505.07 C1586.26 1506.08 1585.65 1507.08 1585.45 1508.68 C1585.25 1510.28 1585.25 1513.09 1585.45 1514.69 C1585.65 1516.29 1586.26 1517.29 1586.66 1518.29 C1587.06 1519.29 1587.26 1519.89 1587.86 1520.7 C1588.46 1521.5 1589.46 1522.5 1590.26 1523.1 C1591.06 1523.7 1591.46 1524.1 1592.66 1524.3 C1593.87 1524.5 1596.27 1524.5 1597.47 1524.3 C1598.67 1524.1 1599.07 1523.7 1599.87 1523.1 C1600.67 1522.5 1601.68 1521.5 1602.28 1520.7 C1602.88 1519.89 1603.08 1519.09 1603.48 1518.29 M1629.91 1505.07 C1629.51 1504.27 1629.31 1503.47 1628.71 1502.67 C1628.11 1501.87 1627.11 1500.87 1626.31 1500.27 C1625.51 1499.67 1625.11 1499.27 1623.91 1499.07 C1622.7 1498.87 1620.3 1498.87 1619.1 1499.07 C1617.9 1499.27 1617.5 1499.67 1616.7 1500.27 C1615.89 1500.87 1614.89 1501.87 1614.29 1502.67 C1613.69 1503.47 1613.49 1504.07 1613.09 1505.07 C1612.69 1506.08 1612.09 1507.08 1611.89 1508.68 C1611.69 1510.28 1611.69 1513.09 1611.89 1514.69 C1612.09 1516.29 1612.69 1517.29 1613.09 1518.29 C1613.49 1519.29 1613.69 1519.89 1614.29 1520.7 C1614.89 1521.5 1615.89 1522.5 1616.7 1523.1 C1617.5 1523.7 1617.9 1524.1 1619.1 1524.3 C1620.3 1524.5 1622.7 1524.5 1623.91 1524.3 C1625.11 1524.1 1625.51 1523.7 1626.31 1523.1 C1627.11 1522.5 1628.11 1521.5 1628.71 1520.7 C1629.31 1519.89 1629.51 1519.09 1629.91 1518.29 M1639.53 1523.1 1652.74 1523.1 M1659.95 1499.07 1659.95 1524.3 M1659.95 1524.3 1674.37 1524.3 M1681.58 1507.48 1681.58 1524.3 M1692.4 1507.48 1692.4 1524.3 M1692.4 1512.28 C1693.6 1511.08 1695 1509.48 1696 1508.68 C1697 1507.88 1697.4 1507.68 1698.4 1507.48 C1699.41 1507.28 1701.01 1507.28 1702.01 1507.48 C1703.01 1507.68 1703.81 1507.88 1704.41 1508.68 C1705.01 1509.48 1705.41 1509.68 1705.61 1512.28 C1705.81 1514.89 1705.61 1520.29 1705.61 1524.3 M1729.65 1507.48 1729.65 1524.3 M1729.65 1511.08 C1728.85 1510.28 1728.04 1509.28 1727.24 1508.68 C1726.44 1508.08 1725.84 1507.68 1724.84 1507.48 C1723.84 1507.28 1722.24 1507.28 1721.24 1507.48 C1720.23 1507.68 1719.63 1508.08 1718.83 1508.68 C1718.03 1509.28 1717.03 1510.08 1716.43 1511.08 C1715.83 1512.08 1715.43 1513.69 1715.23 1514.69 C1715.03 1515.69 1715.03 1516.09 1715.23 1517.09 C1715.43 1518.09 1715.83 1519.69 1716.43 1520.7 C1717.03 1521.7 1718.03 1522.5 1718.83 1523.1 C1719.63 1523.7 1720.23 1524.1 1721.24 1524.3 C1722.24 1524.5 1723.84 1524.5 1724.84 1524.3 C1725.84 1524.1 1726.44 1523.7 1727.24 1523.1 C1728.04 1522.5 1728.85 1521.5 1729.65 1520.7 M1753.68 1511.08 C1752.88 1510.28 1752.08 1509.28 1751.28 1508.68 C1750.47 1508.08 1749.87 1507.68 1748.87 1507.48 C1747.87 1507.28 1746.27 1507.28 1745.27 1507.48 C1744.27 1507.68 1743.67 1508.08 1742.86 1508.68 C1742.06 1509.28 1741.06 1510.08 1740.46 1511.08 C1739.86 1512.08 1739.46 1513.69 1739.26 1514.69 C1739.06 1515.69 1739.06 1516.09 1739.26 1517.09 C1739.46 1518.09 1739.86 1519.69 1740.46 1520.7 C1741.06 1521.7 1742.06 1522.5 1742.86 1523.1 C1743.67 1523.7 1744.27 1524.1 1745.27 1524.3 C1746.27 1524.5 1747.87 1524.5 1748.87 1524.3 C1749.87 1524.1 1750.47 1523.7 1751.28 1523.1 C1752.08 1522.5 1752.88 1521.5 1753.68 1520.7 M1763.29 1505.07 C1763.29 1504.67 1763.09 1504.47 1763.29 1503.87 C1763.49 1503.27 1764.09 1502.07 1764.49 1501.47 C1764.89 1500.87 1765.09 1500.67 1765.69 1500.27 C1766.3 1499.87 1766.9 1499.27 1768.1 1499.07 C1769.3 1498.87 1771.7 1498.87 1772.9 1499.07 C1774.11 1499.27 1774.71 1499.87 1775.31 1500.27 C1775.91 1500.67 1776.11 1500.87 1776.51 1501.47 C1776.91 1502.07 1777.51 1503.07 1777.71 1503.87 C1777.91 1504.67 1777.91 1505.47 1777.71 1506.28 C1777.51 1507.08 1777.11 1507.68 1776.51 1508.68 C1775.91 1509.68 1776.51 1509.68 1774.11 1512.28 C1771.7 1514.89 1766.09 1520.29 1762.09 1524.3 C1767.7 1524.3 1773.3 1524.3 1778.91 1524.3 M1801.74 1499.07 1801.74 1524.3 M1825.77 1507.48 1825.77 1524.3 M1825.77 1511.08 C1824.97 1510.28 1824.17 1509.28 1823.37 1508.68 C1822.57 1508.08 1821.97 1507.68 1820.97 1507.48 C1819.97 1507.28 1818.36 1507.28 1817.36 1507.48 C1816.36 1507.68 1815.76 1508.08 1814.96 1508.68 C1814.16 1509.28 1813.16 1510.08 1812.56 1511.08 C1811.96 1512.08 1811.56 1513.69 1811.36 1514.69 C1811.15 1515.69 1811.15 1516.09 1811.36 1517.09 C1811.56 1518.09 1811.96 1519.69 1812.56 1520.7 C1813.16 1521.7 1814.16 1522.5 1814.96 1523.1 C1815.76 1523.7 1816.36 1524.1 1817.36 1524.3 C1818.36 1524.5 1819.97 1524.5 1820.97 1524.3 C1821.97 1524.1 1822.57 1523.7 1823.37 1523.1 C1824.17 1522.5 1824.97 1521.5 1825.77 1520.7 M1837.79 1499.07 C1837.79 1505.88 1837.59 1515.49 1837.79 1519.49 C1837.99 1523.5 1838.39 1522.3 1838.99 1523.1 C1839.59 1523.9 1840.59 1524.1 1841.4 1524.3 C1842.2 1524.5 1843 1524.3 1843.8 1524.3 M1834.19 1507.48 1842.6 1507.48" fill="none" stroke="#000" stroke-width="3" stroke-linecap="square" stroke-linejoin="miter" stroke-miterlimit="2"/><g fill="#000"><circle cx="365.83" cy="1499.07" r="2.7"/><circle cx="735.92" cy="1499.07" r="2.7"/><circle cx="835.66" cy="1508.68" r="2.7"/><circle cx="835.66" cy="1523.1" r="2.7"/><circle cx="990.66" cy="1499.07" r="2.7"/><circle cx="1283.85" cy="1523.1" r="2.7"/><circle cx="1468.9" cy="1499.07" r="2.7"/><circle cx="1526.58" cy="1508.68" r="2.7"/><circle cx="1526.58" cy="1523.1" r="2.7"/><circle cx="1681.58" cy="1499.07" r="2.7"/><circle cx="1789.73" cy="1523.1" r="2.7"/></g>
<path d="M72.8 867.5 C70.58 867.18 63.15 866.08 59.5 865.6 C55.85 865.12 53.9 865.03 50.9 864.6 C47.9 864.17 45.42 863.92 41.5 863 C37.58 862.08 31.58 860.53 27.4 859.1 C23.22 857.67 19.02 855.97 16.4 854.4 C13.78 852.83 12.7 851.38 11.7 849.7 C10.7 848.02 10.4 846.12 10.4 844.3 C10.4 842.48 11.08 840.12 11.7 838.8 C12.32 837.48 12.53 836.83 14.1 836.4 C15.67 835.97 19.02 835.73 21.1 836.2 C23.18 836.67 24.9 837.67 26.6 839.2 C28.3 840.73 30.65 843 31.3 845.4 C31.95 847.8 30.63 852.23 30.5 853.6 M30.5 853.6 C30.97 852.43 31.87 848.55 33.3 846.6 C34.73 844.65 36.63 842.78 39.1 841.9 C41.57 841.02 45.48 840.72 48.1 841.3 C50.72 841.88 53.43 843.73 54.8 845.4 C56.17 847.07 56.3 849.27 56.3 851.3 C56.3 853.33 55.7 855.87 54.8 857.6 C53.9 859.33 52.62 860.77 50.9 861.7 C49.18 862.63 45.57 862.95 44.5 863.2 M72.8 729.9 C70.58 729.58 63.15 728.48 59.5 728 C55.85 727.52 53.9 727.43 50.9 727 C47.9 726.57 45.42 726.32 41.5 725.4 C37.58 724.48 31.58 722.93 27.4 721.5 C23.22 720.07 19.02 718.37 16.4 716.8 C13.78 715.23 12.7 713.78 11.7 712.1 C10.7 710.42 10.4 708.52 10.4 706.7 C10.4 704.88 11.08 702.52 11.7 701.2 C12.32 699.88 12.53 699.23 14.1 698.8 C15.67 698.37 19.02 698.13 21.1 698.6 C23.18 699.07 24.9 700.07 26.6 701.6 C28.3 703.13 30.65 705.4 31.3 707.8 C31.95 710.2 30.63 714.63 30.5 716 M30.5 716 C30.97 714.83 31.87 710.95 33.3 709 C34.73 707.05 36.63 705.18 39.1 704.3 C41.57 703.42 45.48 703.12 48.1 703.7 C50.72 704.28 53.43 706.13 54.8 707.8 C56.17 709.47 56.3 711.67 56.3 713.7 C56.3 715.73 55.7 718.27 54.8 720 C53.9 721.73 52.62 723.17 50.9 724.1 C49.18 725.03 45.57 725.35 44.5 725.6" fill="none" stroke="#000" stroke-width="3" stroke-linecap="square" stroke-linejoin="round"/>
<path d="M58.85 821.8 79.15 813.1 M58.85 804.4 C65.62 807.3 74.8 811.17 79.15 813.1 C83.5 815.03 83.5 815.03 84.95 816 C86.4 816.97 87.12 817.93 87.85 818.9 C88.58 819.87 89.06 821.08 89.3 821.8 C89.54 822.53 89.3 822.77 89.3 823.25 M54.17 794.57 C54.91 795.31 55.66 796.06 56.4 796.8 C55.66 797.54 54.91 798.29 54.17 799.03 C53.43 798.29 52.68 797.54 51.94 796.8 C52.68 796.06 53.05 794.94 54.17 794.57 C55.29 794.2 57.14 794.2 58.63 794.57 C60.12 794.94 61.97 796.06 63.09 796.8 C64.2 797.54 64.58 798.29 65.32 799.03 M58.85 684.2 79.15 675.5 M58.85 666.8 C65.62 669.7 74.8 673.57 79.15 675.5 C83.5 677.43 83.5 677.43 84.95 678.4 C86.4 679.37 87.12 680.33 87.85 681.3 C88.58 682.27 89.06 683.48 89.3 684.2 C89.54 684.93 89.3 685.17 89.3 685.65 M77.7 658.35 C78.18 658.83 78.67 659.32 79.15 659.8 C78.67 660.28 78.18 660.77 77.7 661.25 C77.22 660.77 76.73 660.28 76.25 659.8 C76.73 659.32 76.97 658.59 77.7 658.35 C78.43 658.11 79.63 658.11 80.6 658.35 C81.57 658.59 82.78 659.32 83.5 659.8 C84.22 660.28 84.47 660.77 84.95 661.25 M48.7 645.7 79.15 645.7 M63.2 645.7 C62.23 644.73 61.03 643.77 60.3 642.8 C59.58 641.83 59.09 641.11 58.85 639.9 C58.61 638.69 58.61 636.76 58.85 635.55 C59.09 634.34 59.58 633.62 60.3 632.65 C61.03 631.68 61.99 630.48 63.2 629.75 C64.41 629.02 66.34 628.54 67.55 628.3 C68.76 628.06 69.24 628.06 70.45 628.3 C71.66 628.54 73.59 629.02 74.8 629.75 C76.01 630.48 76.98 631.68 77.7 632.65 C78.42 633.62 78.91 634.34 79.15 635.55 C79.39 636.76 79.39 638.69 79.15 639.9 C78.91 641.11 78.42 641.83 77.7 642.8 C76.98 643.77 75.77 644.73 74.8 645.7 M67.55 616.15 C67.55 610.35 67.55 604.55 67.55 598.75 C66.58 598.75 65.62 598.51 64.65 598.75 C63.68 598.99 62.48 599.72 61.75 600.2 C61.03 600.68 60.78 600.92 60.3 601.65 C59.82 602.38 59.09 603.34 58.85 604.55 C58.61 605.76 58.61 607.69 58.85 608.9 C59.09 610.11 59.58 610.83 60.3 611.8 C61.03 612.77 61.99 613.98 63.2 614.7 C64.41 615.43 66.34 615.91 67.55 616.15 C68.76 616.39 69.24 616.39 70.45 616.15 C71.66 615.91 73.59 615.43 74.8 614.7 C76.01 613.98 76.98 612.77 77.7 611.8 C78.42 610.83 78.91 610.11 79.15 608.9 C79.39 607.69 79.39 605.76 79.15 604.55 C78.91 603.34 78.42 602.62 77.7 601.65 C76.98 600.68 75.77 599.72 74.8 598.75 M58.85 572.25 79.15 572.25 M63.2 572.25 C62.23 573.22 61.03 574.18 60.3 575.15 C59.58 576.12 59.09 576.84 58.85 578.05 C58.61 579.26 58.61 581.19 58.85 582.4 C59.09 583.61 59.58 584.33 60.3 585.3 C61.03 586.27 61.99 587.48 63.2 588.2 C64.41 588.93 66.34 589.41 67.55 589.65 C68.76 589.89 69.24 589.89 70.45 589.65 C71.66 589.41 73.59 588.93 74.8 588.2 C76.01 587.48 76.98 586.27 77.7 585.3 C78.42 584.33 78.91 583.61 79.15 582.4 C79.39 581.19 79.39 579.26 79.15 578.05 C78.91 576.84 78.42 576.12 77.7 575.15 C76.98 574.18 75.77 573.22 74.8 572.25 M58.85 561.5 79.15 561.5 M64.65 561.5 C63.2 560.05 61.27 558.36 60.3 557.15 C59.33 555.94 59.09 555.46 58.85 554.25 C58.61 553.04 58.61 551.11 58.85 549.9 C59.09 548.69 59.33 547.73 60.3 547 C61.27 546.27 61.51 545.79 64.65 545.55 C67.79 545.31 74.32 545.55 79.15 545.55 M64.65 545.55 C63.2 544.1 61.27 542.41 60.3 541.2 C59.33 539.99 59.09 539.51 58.85 538.3 C58.61 537.09 58.61 535.16 58.85 533.95 C59.09 532.74 59.33 531.77 60.3 531.05 C61.27 530.32 61.51 529.84 64.65 529.6 C67.79 529.36 74.32 529.6 79.15 529.6 M0.65 453.97 C2.14 455.46 3.25 456.94 5.11 458.43 C6.97 459.92 9.2 461.4 11.8 462.89 C14.4 464.38 17.38 466.24 20.72 467.35 C24.06 468.47 28.52 469.21 31.87 469.58 C35.21 469.95 37.45 469.95 40.79 469.58 C44.13 469.21 48.59 468.47 51.94 467.35 C55.28 466.24 58.26 464.38 60.86 462.89 C63.46 461.4 65.69 459.92 67.55 458.43 C69.41 456.94 70.52 455.46 72.01 453.97 M25.18 437.38 56.4 437.38 M34.1 437.38 C31.87 435.15 28.9 432.55 27.41 430.69 C25.92 428.83 25.55 428.09 25.18 426.23 C24.81 424.37 24.81 421.4 25.18 419.54 C25.55 417.68 25.92 416.2 27.41 415.08 C28.9 413.97 29.27 413.22 34.1 412.85 C38.93 412.48 48.97 412.85 56.4 412.85 M34.1 412.85 C31.87 410.62 28.9 408.02 27.41 406.16 C25.92 404.3 25.55 403.56 25.18 401.7 C24.81 399.84 24.81 396.87 25.18 395.01 C25.55 393.15 25.92 391.67 27.41 390.55 C28.9 389.44 29.27 388.69 34.1 388.32 C38.93 387.95 48.97 388.32 56.4 388.32 M0.65 368.71 C2.14 367.22 3.25 365.74 5.11 364.25 C6.97 362.76 9.2 361.28 11.8 359.79 C14.4 358.3 17.38 356.44 20.72 355.33 C24.06 354.21 28.52 353.47 31.87 353.1 C35.21 352.73 37.45 352.73 40.79 353.1 C44.13 353.47 48.59 354.21 51.94 355.33 C55.28 356.44 58.26 358.3 60.86 359.79 C63.46 361.28 65.69 362.76 67.55 364.25 C69.41 365.74 70.52 367.22 72.01 368.71" fill="none" stroke="#000" stroke-width="3" stroke-linecap="square" stroke-linejoin="miter" stroke-miterlimit="2"/>
</svg>
</body></html>
